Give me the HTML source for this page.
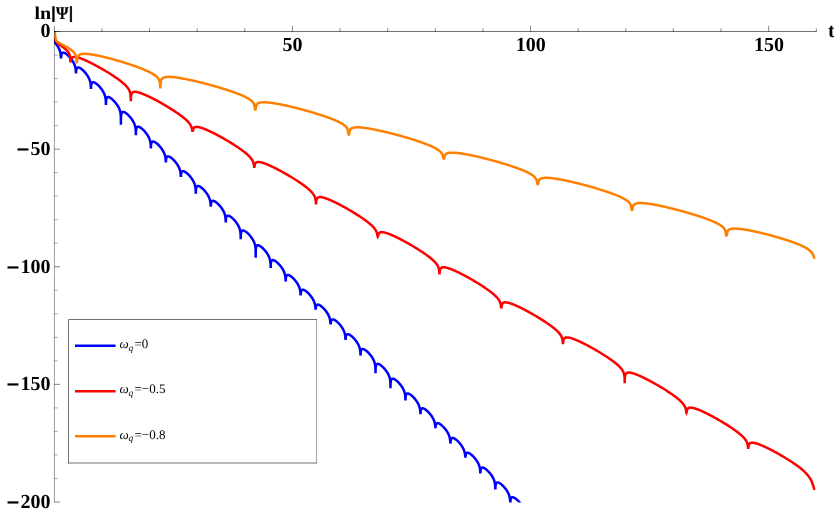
<!DOCTYPE html>
<html lang="en">
<head>
<meta charset="utf-8">
<title>ln|Psi| vs t</title>
<style>
html,body{margin:0;padding:0;background:#ffffff;}
body{width:834px;height:518px;overflow:hidden;font-family:"Liberation Serif",serif;}
svg{display:block;will-change:transform;}
text{font-family:"Liberation Serif",serif;font-weight:bold;font-size:20px;fill:#000000;text-rendering:geometricPrecision;}
text.lg{font-weight:normal;font-size:13px;}
</style>
</head>
<body>
<svg width="834" height="518" viewBox="0 0 834 518">
<rect x="0" y="0" width="834" height="518" fill="#ffffff"/>
<defs><clipPath id="pr"><rect x="54" y="0" width="780" height="502.5"/></clipPath></defs>
<g fill="none" stroke-width="2.5" stroke-linejoin="miter" stroke-miterlimit="3" stroke-linecap="butt" clip-path="url(#pr)">
<path stroke="#0000ff" d="M54.60 31.40L54.60 40.00L54.65 42.61L54.91 42.61L55.16 42.91L55.42 43.21L55.67 43.51L55.92 43.83L56.18 44.16L56.43 44.49L56.68 44.83L56.94 45.19L57.19 45.56L57.45 45.94L57.70 46.33L57.95 46.74L58.21 47.17L58.46 47.62L58.72 48.10L58.97 48.61L59.22 49.16L59.48 49.76L59.73 50.43L59.80 50.62L59.98 51.19L60.10 51.59L60.24 52.11L60.30 52.37L60.49 53.31L60.50 53.35L60.70 54.75L60.75 55.19L60.78 55.56L60.85 56.53L60.90 57.53L61.00 58.30L61.10 57.73L61.15 56.83L61.22 55.99L61.25 55.69L61.30 55.34L61.50 54.34L61.51 54.32L61.70 53.75L61.76 53.62L61.90 53.37L62.02 53.20L62.20 53.00L62.27 52.94L62.52 52.77L62.78 52.67L63.03 52.63L63.28 52.62L63.54 52.65L63.79 52.70L64.05 52.77L64.30 52.86L64.55 52.97L64.81 53.09L65.06 53.23L65.32 53.37L65.57 53.53L65.82 53.70L66.08 53.88L66.33 54.06L66.58 54.26L66.84 54.46L67.09 54.67L67.35 54.89L67.60 55.11L67.85 55.34L68.11 55.58L68.36 55.83L68.62 56.08L68.87 56.33L69.12 56.60L69.38 56.87L69.63 57.15L69.88 57.43L70.14 57.73L70.39 58.03L70.65 58.33L70.90 58.65L71.15 58.98L71.41 59.31L71.66 59.65L71.92 60.01L72.17 60.38L72.42 60.76L72.68 61.15L72.93 61.56L73.18 61.99L73.44 62.44L73.69 62.92L73.95 63.43L74.20 63.98L74.45 64.58L74.71 65.25L74.78 65.44L74.96 66.01L75.08 66.41L75.22 66.93L75.28 67.19L75.47 68.13L75.48 68.17L75.68 69.57L75.72 70.01L75.76 70.38L75.83 71.35L75.88 72.35L75.98 73.30L76.08 72.55L76.13 71.65L76.20 70.81L76.23 70.51L76.28 70.16L76.48 69.16L76.48 69.14L76.68 68.57L76.74 68.44L76.88 68.19L76.99 68.02L77.18 67.82L77.25 67.76L77.50 67.59L77.75 67.49L78.01 67.45L78.26 67.44L78.52 67.47L78.77 67.52L79.02 67.59L79.28 67.68L79.53 67.79L79.78 67.91L80.04 68.05L80.29 68.19L80.55 68.35L80.80 68.52L81.05 68.70L81.31 68.88L81.56 69.08L81.82 69.28L82.07 69.49L82.32 69.71L82.58 69.93L82.83 70.16L83.08 70.40L83.34 70.65L83.59 70.90L83.85 71.15L84.10 71.42L84.35 71.69L84.61 71.97L84.86 72.25L85.12 72.55L85.37 72.85L85.62 73.15L85.88 73.47L86.13 73.80L86.38 74.13L86.64 74.47L86.89 74.83L87.15 75.20L87.40 75.58L87.65 75.97L87.91 76.38L88.16 76.81L88.42 77.26L88.67 77.74L88.92 78.25L89.18 78.80L89.43 79.40L89.68 80.07L89.75 80.26L89.94 80.83L90.05 81.23L90.19 81.75L90.25 82.01L90.45 82.95L90.45 82.99L90.65 84.39L90.70 84.83L90.73 85.20L90.80 86.17L90.85 87.17L90.88 88.04L90.95 88.80L91.02 88.18L91.05 87.37L91.10 86.47L91.17 85.63L91.21 85.33L91.25 84.98L91.45 83.98L91.46 83.96L91.65 83.39L91.72 83.26L91.85 83.01L91.97 82.84L92.15 82.64L92.22 82.58L92.48 82.41L92.73 82.31L92.98 82.27L93.24 82.26L93.49 82.29L93.75 82.34L94.00 82.41L94.25 82.50L94.51 82.61L94.76 82.73L95.02 82.87L95.27 83.01L95.52 83.17L95.78 83.34L96.03 83.52L96.28 83.70L96.54 83.90L96.79 84.10L97.05 84.31L97.30 84.53L97.55 84.75L97.81 84.98L98.06 85.22L98.32 85.47L98.57 85.72L98.82 85.97L99.08 86.24L99.33 86.51L99.58 86.79L99.84 87.07L100.09 87.37L100.35 87.67L100.60 87.97L100.85 88.29L101.11 88.62L101.36 88.95L101.62 89.29L101.87 89.65L102.12 90.02L102.38 90.40L102.63 90.79L102.88 91.20L103.14 91.63L103.39 92.08L103.65 92.56L103.90 93.07L104.15 93.62L104.41 94.22L104.66 94.89L104.73 95.08L104.92 95.65L105.03 96.05L105.17 96.57L105.23 96.83L105.42 97.77L105.43 97.81L105.63 99.21L105.68 99.65L105.71 100.02L105.78 100.99L105.83 101.99L105.86 102.86L105.89 104.21L105.93 105.00L105.97 104.29L106.00 103.00L106.03 102.19L106.08 101.29L106.15 100.45L106.18 100.15L106.23 99.80L106.43 98.80L106.44 98.78L106.63 98.21L106.69 98.08L106.83 97.83L106.95 97.66L107.13 97.46L107.20 97.40L107.45 97.23L107.71 97.13L107.96 97.09L108.22 97.08L108.47 97.11L108.72 97.16L108.98 97.23L109.23 97.32L109.48 97.43L109.74 97.55L109.99 97.69L110.25 97.83L110.50 97.99L110.75 98.16L111.01 98.34L111.26 98.52L111.52 98.72L111.77 98.92L112.02 99.13L112.28 99.35L112.53 99.57L112.78 99.80L113.04 100.04L113.29 100.29L113.55 100.54L113.80 100.79L114.05 101.06L114.31 101.33L114.56 101.61L114.82 101.89L115.07 102.19L115.32 102.49L115.58 102.79L115.83 103.11L116.08 103.44L116.34 103.77L116.59 104.11L116.85 104.47L117.10 104.84L117.35 105.22L117.61 105.61L117.86 106.02L118.12 106.45L118.37 106.90L118.62 107.38L118.88 107.89L119.13 108.44L119.38 109.04L119.64 109.71L119.71 109.90L119.89 110.47L120.01 110.87L120.15 111.39L120.21 111.65L120.40 112.59L120.41 112.63L120.61 114.03L120.65 114.47L120.69 114.84L120.76 115.81L120.81 116.81L120.84 117.68L120.87 119.03L120.89 120.68L120.90 122.32L120.91 124.80L120.92 122.34L120.93 120.72L120.95 119.11L120.98 117.82L121.01 117.01L121.06 116.11L121.13 115.27L121.16 114.97L121.21 114.62L121.41 113.62L121.42 113.60L121.61 113.03L121.67 112.90L121.81 112.65L121.92 112.48L122.11 112.28L122.18 112.22L122.43 112.05L122.68 111.95L122.94 111.91L123.19 111.90L123.45 111.93L123.70 111.98L123.95 112.05L124.21 112.14L124.46 112.25L124.72 112.37L124.97 112.51L125.22 112.65L125.48 112.81L125.73 112.98L125.98 113.16L126.24 113.34L126.49 113.54L126.75 113.74L127.00 113.95L127.25 114.17L127.51 114.39L127.76 114.62L128.02 114.86L128.27 115.11L128.52 115.36L128.78 115.61L129.03 115.88L129.28 116.15L129.54 116.43L129.79 116.71L130.05 117.01L130.30 117.31L130.55 117.61L130.81 117.93L131.06 118.26L131.32 118.59L131.57 118.93L131.82 119.29L132.08 119.66L132.33 120.04L132.58 120.43L132.84 120.84L133.09 121.27L133.35 121.72L133.60 122.20L133.85 122.71L134.11 123.26L134.36 123.86L134.62 124.53L134.69 124.72L134.87 125.29L134.98 125.69L135.12 126.21L135.19 126.47L135.38 127.41L135.38 127.45L135.58 128.85L135.63 129.29L135.66 129.66L135.73 130.63L135.78 131.63L135.81 132.50L135.84 133.85L135.88 135.30L135.92 133.93L135.95 132.64L135.98 131.83L136.03 130.93L136.10 130.09L136.14 129.79L136.19 129.44L136.38 128.44L136.39 128.42L136.58 127.85L136.65 127.72L136.78 127.47L136.90 127.30L137.08 127.10L137.15 127.04L137.41 126.87L137.66 126.77L137.92 126.73L138.17 126.72L138.42 126.75L138.68 126.80L138.93 126.87L139.19 126.96L139.44 127.07L139.69 127.19L139.95 127.33L140.20 127.47L140.45 127.63L140.71 127.80L140.96 127.98L141.22 128.16L141.47 128.36L141.72 128.56L141.98 128.77L142.23 128.99L142.49 129.21L142.74 129.44L142.99 129.68L143.25 129.93L143.50 130.18L143.75 130.43L144.01 130.70L144.26 130.97L144.52 131.25L144.77 131.53L145.02 131.83L145.28 132.13L145.53 132.43L145.79 132.75L146.04 133.08L146.29 133.41L146.55 133.75L146.80 134.11L147.05 134.48L147.31 134.86L147.56 135.25L147.82 135.66L148.07 136.09L148.32 136.54L148.58 137.02L148.83 137.53L149.09 138.08L149.34 138.68L149.59 139.35L149.66 139.54L149.85 140.11L149.96 140.51L150.10 141.03L150.16 141.29L150.35 142.23L150.36 142.27L150.56 143.67L150.61 144.11L150.64 144.48L150.71 145.45L150.76 146.45L150.79 147.32L150.86 148.30L150.93 147.46L150.96 146.65L151.01 145.75L151.08 144.91L151.12 144.61L151.16 144.26L151.36 143.26L151.37 143.24L151.56 142.67L151.62 142.54L151.76 142.29L151.88 142.12L152.06 141.92L152.13 141.86L152.39 141.69L152.64 141.59L152.89 141.55L153.15 141.54L153.40 141.57L153.65 141.62L153.91 141.69L154.16 141.78L154.42 141.89L154.67 142.01L154.92 142.15L155.18 142.29L155.43 142.45L155.69 142.62L155.94 142.80L156.19 142.98L156.45 143.18L156.70 143.38L156.95 143.59L157.21 143.81L157.46 144.03L157.72 144.26L157.97 144.50L158.22 144.75L158.48 145.00L158.73 145.25L158.99 145.52L159.24 145.79L159.49 146.07L159.75 146.35L160.00 146.65L160.25 146.95L160.51 147.25L160.76 147.57L161.02 147.90L161.27 148.23L161.52 148.57L161.78 148.93L162.03 149.30L162.29 149.68L162.54 150.07L162.79 150.48L163.05 150.91L163.30 151.36L163.55 151.84L163.81 152.35L164.06 152.90L164.32 153.50L164.57 154.17L164.64 154.36L164.82 154.93L164.94 155.33L165.08 155.85L165.14 156.11L165.33 157.05L165.34 157.09L165.54 158.49L165.59 158.93L165.62 159.30L165.69 160.27L165.74 161.27L165.84 162.50L165.94 161.47L165.99 160.57L166.06 159.73L166.09 159.43L166.14 159.08L166.34 158.08L166.35 158.06L166.54 157.49L166.60 157.36L166.74 157.11L166.85 156.94L167.04 156.74L167.11 156.68L167.36 156.51L167.62 156.41L167.87 156.37L168.12 156.36L168.38 156.39L168.63 156.44L168.89 156.51L169.14 156.60L169.39 156.71L169.65 156.83L169.90 156.97L170.15 157.11L170.41 157.27L170.66 157.44L170.92 157.62L171.17 157.80L171.42 158.00L171.68 158.20L171.93 158.41L172.19 158.63L172.44 158.85L172.69 159.08L172.95 159.32L173.20 159.57L173.45 159.82L173.71 160.07L173.96 160.34L174.22 160.61L174.47 160.89L174.72 161.17L174.98 161.47L175.23 161.77L175.49 162.07L175.74 162.39L175.99 162.72L176.25 163.05L176.50 163.39L176.75 163.75L177.01 164.12L177.26 164.50L177.52 164.89L177.77 165.30L178.02 165.73L178.28 166.18L178.53 166.66L178.79 167.17L179.04 167.72L179.29 168.32L179.55 168.99L179.62 169.18L179.80 169.75L179.92 170.15L180.05 170.67L180.12 170.93L180.31 171.87L180.32 171.91L180.52 173.31L180.56 173.75L180.60 174.12L180.67 175.09L180.72 176.09L180.82 176.70L180.92 176.29L180.97 175.39L181.04 174.55L181.07 174.25L181.12 173.90L181.32 172.90L181.32 172.88L181.52 172.31L181.58 172.18L181.72 171.93L181.83 171.76L182.02 171.56L182.09 171.50L182.34 171.33L182.59 171.23L182.85 171.19L183.10 171.18L183.35 171.21L183.61 171.26L183.86 171.33L184.12 171.42L184.37 171.53L184.62 171.65L184.88 171.79L185.13 171.93L185.39 172.09L185.64 172.26L185.89 172.44L186.15 172.62L186.40 172.82L186.65 173.02L186.91 173.23L187.16 173.45L187.42 173.67L187.67 173.90L187.92 174.14L188.18 174.39L188.43 174.64L188.69 174.89L188.94 175.16L189.19 175.43L189.45 175.71L189.70 175.99L189.95 176.29L190.21 176.59L190.46 176.89L190.72 177.21L190.97 177.54L191.22 177.87L191.48 178.21L191.73 178.57L191.99 178.94L192.24 179.32L192.49 179.71L192.75 180.12L193.00 180.55L193.25 181.00L193.51 181.48L193.76 181.99L194.02 182.54L194.27 183.14L194.52 183.81L194.59 184.00L194.78 184.57L194.89 184.97L195.03 185.49L195.09 185.75L195.29 186.69L195.29 186.73L195.49 188.13L195.54 188.57L195.57 188.94L195.64 189.91L195.69 190.91L195.72 191.78L195.75 193.13L195.79 193.70L195.83 193.21L195.86 191.92L195.89 191.11L195.94 190.21L196.01 189.37L196.05 189.07L196.09 188.72L196.29 187.72L196.30 187.70L196.49 187.13L196.55 187.00L196.69 186.75L196.81 186.58L196.99 186.38L197.06 186.32L197.32 186.15L197.57 186.05L197.82 186.01L198.08 186.00L198.33 186.03L198.59 186.08L198.84 186.15L199.09 186.24L199.35 186.35L199.60 186.47L199.85 186.61L200.11 186.75L200.36 186.91L200.62 187.08L200.87 187.26L201.12 187.44L201.38 187.64L201.63 187.84L201.89 188.05L202.14 188.27L202.39 188.49L202.65 188.72L202.90 188.96L203.15 189.21L203.41 189.46L203.66 189.71L203.92 189.98L204.17 190.25L204.42 190.53L204.68 190.81L204.93 191.11L205.19 191.41L205.44 191.71L205.69 192.03L205.95 192.36L206.20 192.69L206.45 193.03L206.71 193.39L206.96 193.76L207.22 194.14L207.47 194.53L207.72 194.94L207.98 195.37L208.23 195.82L208.49 196.30L208.74 196.81L208.99 197.36L209.25 197.96L209.50 198.63L209.57 198.82L209.75 199.39L209.87 199.79L210.01 200.31L210.07 200.57L210.26 201.51L210.27 201.55L210.47 202.95L210.52 203.39L210.55 203.76L210.62 204.73L210.67 205.73L210.77 206.70L210.87 205.93L210.92 205.03L210.99 204.19L211.02 203.89L211.07 203.54L211.27 202.54L211.28 202.52L211.47 201.95L211.53 201.82L211.67 201.57L211.79 201.40L211.97 201.20L212.04 201.14L212.29 200.97L212.55 200.87L212.80 200.83L213.05 200.82L213.31 200.85L213.56 200.90L213.82 200.97L214.07 201.06L214.32 201.17L214.58 201.29L214.83 201.43L215.09 201.57L215.34 201.73L215.59 201.90L215.85 202.08L216.10 202.26L216.35 202.46L216.61 202.66L216.86 202.87L217.12 203.09L217.37 203.31L217.62 203.54L217.88 203.78L218.13 204.03L218.39 204.28L218.64 204.53L218.89 204.80L219.15 205.07L219.40 205.35L219.65 205.63L219.91 205.93L220.16 206.23L220.42 206.53L220.67 206.85L220.92 207.18L221.18 207.51L221.43 207.85L221.69 208.21L221.94 208.58L222.19 208.96L222.45 209.35L222.70 209.76L222.95 210.19L223.21 210.64L223.46 211.12L223.72 211.63L223.97 212.18L224.22 212.78L224.48 213.45L224.55 213.64L224.73 214.21L224.85 214.61L224.99 215.13L225.05 215.39L225.24 216.33L225.25 216.37L225.45 217.77L225.49 218.21L225.53 218.58L225.60 219.55L225.65 220.55L225.68 221.42L225.75 222.50L225.82 221.56L225.85 220.75L225.90 219.85L225.97 219.01L226.00 218.71L226.05 218.36L226.25 217.36L226.25 217.34L226.45 216.77L226.51 216.64L226.65 216.39L226.76 216.22L226.95 216.02L227.02 215.96L227.27 215.79L227.52 215.69L227.78 215.65L228.03 215.64L228.29 215.67L228.54 215.72L228.79 215.79L229.05 215.88L229.30 215.99L229.55 216.11L229.81 216.25L230.06 216.39L230.32 216.55L230.57 216.72L230.82 216.90L231.08 217.08L231.33 217.28L231.59 217.48L231.84 217.69L232.09 217.91L232.35 218.13L232.60 218.36L232.85 218.60L233.11 218.85L233.36 219.10L233.62 219.35L233.87 219.62L234.12 219.89L234.38 220.17L234.63 220.45L234.89 220.75L235.14 221.05L235.39 221.35L235.65 221.67L235.90 222.00L236.15 222.33L236.41 222.67L236.66 223.03L236.92 223.40L237.17 223.78L237.42 224.17L237.68 224.58L237.93 225.01L238.19 225.46L238.44 225.94L238.69 226.45L238.95 227.00L239.20 227.60L239.45 228.27L239.52 228.46L239.71 229.03L239.82 229.43L239.96 229.95L240.02 230.21L240.22 231.15L240.22 231.19L240.42 232.59L240.47 233.03L240.50 233.40L240.57 234.37L240.62 235.37L240.65 236.24L240.68 237.59L240.72 239.20L240.76 237.67L240.79 236.38L240.82 235.57L240.87 234.67L240.94 233.83L240.98 233.53L241.02 233.18L241.22 232.18L241.23 232.16L241.42 231.59L241.49 231.46L241.62 231.21L241.74 231.04L241.92 230.84L241.99 230.78L242.25 230.61L242.50 230.51L242.75 230.47L243.01 230.46L243.26 230.49L243.52 230.54L243.77 230.61L244.02 230.70L244.28 230.81L244.53 230.93L244.79 231.07L245.04 231.21L245.29 231.37L245.55 231.54L245.80 231.72L246.05 231.90L246.31 232.10L246.56 232.30L246.82 232.51L247.07 232.73L247.32 232.95L247.58 233.18L247.83 233.42L248.09 233.67L248.34 233.92L248.59 234.17L248.85 234.44L249.10 234.71L249.35 234.99L249.61 235.27L249.86 235.57L250.12 235.87L250.37 236.17L250.62 236.49L250.88 236.82L251.13 237.15L251.39 237.49L251.64 237.85L251.89 238.22L252.15 238.60L252.40 238.99L252.65 239.40L252.91 239.83L253.16 240.28L253.42 240.76L253.67 241.27L253.92 241.82L254.18 242.42L254.43 243.09L254.50 243.28L254.69 243.85L254.80 244.25L254.94 244.77L255.00 245.03L255.19 245.97L255.20 246.01L255.40 247.41L255.45 247.85L255.48 248.22L255.55 249.19L255.60 250.19L255.63 251.06L255.66 252.41L255.68 254.06L255.69 255.70L255.70 257.80L255.71 255.72L255.72 254.10L255.74 252.49L255.77 251.20L255.80 250.39L255.85 249.49L255.92 248.65L255.95 248.35L256.00 248.00L256.20 247.00L256.21 246.98L256.40 246.41L256.46 246.28L256.60 246.03L256.72 245.86L256.90 245.66L256.97 245.60L257.22 245.43L257.48 245.33L257.73 245.29L257.99 245.28L258.24 245.31L258.49 245.36L258.75 245.43L259.00 245.52L259.25 245.63L259.51 245.75L259.76 245.89L260.02 246.03L260.27 246.19L260.52 246.36L260.78 246.54L261.03 246.72L261.29 246.92L261.54 247.12L261.79 247.33L262.05 247.55L262.30 247.77L262.55 248.00L262.81 248.24L263.06 248.49L263.32 248.74L263.57 248.99L263.82 249.26L264.08 249.53L264.33 249.81L264.59 250.09L264.84 250.39L265.09 250.69L265.35 250.99L265.60 251.31L265.85 251.64L266.11 251.97L266.36 252.31L266.62 252.67L266.87 253.04L267.12 253.42L267.38 253.81L267.63 254.22L267.89 254.65L268.14 255.10L268.39 255.58L268.65 256.09L268.90 256.64L269.15 257.24L269.41 257.91L269.48 258.10L269.66 258.67L269.78 259.07L269.92 259.59L269.98 259.85L270.17 260.79L270.18 260.83L270.38 262.23L270.42 262.67L270.46 263.04L270.53 264.01L270.58 265.01L270.61 265.88L270.64 267.23L270.68 268.00L270.72 267.31L270.75 266.02L270.78 265.21L270.83 264.31L270.90 263.47L270.93 263.17L270.98 262.82L271.18 261.82L271.19 261.80L271.38 261.23L271.44 261.10L271.58 260.85L271.69 260.68L271.88 260.48L271.95 260.42L272.20 260.25L272.45 260.15L272.71 260.11L272.96 260.10L273.22 260.13L273.47 260.18L273.72 260.25L273.98 260.34L274.23 260.45L274.49 260.57L274.74 260.71L274.99 260.85L275.25 261.01L275.50 261.18L275.75 261.36L276.01 261.54L276.26 261.74L276.52 261.94L276.77 262.15L277.02 262.37L277.28 262.59L277.53 262.82L277.79 263.06L278.04 263.31L278.29 263.56L278.55 263.81L278.80 264.08L279.05 264.35L279.31 264.63L279.56 264.91L279.82 265.21L280.07 265.51L280.32 265.81L280.58 266.13L280.83 266.46L281.09 266.79L281.34 267.13L281.59 267.49L281.85 267.86L282.10 268.24L282.35 268.63L282.61 269.04L282.86 269.47L283.12 269.92L283.37 270.40L283.62 270.91L283.88 271.46L284.13 272.06L284.39 272.73L284.45 272.92L284.64 273.49L284.75 273.89L284.89 274.41L284.95 274.67L285.15 275.61L285.15 275.65L285.35 277.05L285.40 277.49L285.43 277.86L285.50 278.83L285.55 279.83L285.58 280.70L285.65 281.50L285.72 280.84L285.75 280.03L285.80 279.13L285.88 278.29L285.91 277.99L285.95 277.64L286.15 276.64L286.16 276.62L286.35 276.05L286.42 275.92L286.55 275.67L286.67 275.50L286.85 275.30L286.92 275.24L287.18 275.07L287.43 274.97L287.69 274.93L287.94 274.92L288.19 274.95L288.45 275.00L288.70 275.07L288.96 275.16L289.21 275.27L289.46 275.39L289.72 275.53L289.97 275.67L290.22 275.83L290.48 276.00L290.73 276.18L290.99 276.36L291.24 276.56L291.49 276.76L291.75 276.97L292.00 277.19L292.26 277.41L292.51 277.64L292.76 277.88L293.02 278.13L293.27 278.38L293.52 278.63L293.78 278.90L294.03 279.17L294.29 279.45L294.54 279.73L294.79 280.03L295.05 280.33L295.30 280.63L295.56 280.95L295.81 281.28L296.06 281.61L296.32 281.95L296.57 282.31L296.82 282.68L297.08 283.06L297.33 283.45L297.59 283.86L297.84 284.29L298.09 284.74L298.35 285.22L298.60 285.73L298.86 286.28L299.11 286.88L299.36 287.55L299.43 287.74L299.62 288.31L299.73 288.71L299.87 289.23L299.93 289.49L300.12 290.43L300.13 290.47L300.33 291.87L300.38 292.31L300.41 292.68L300.48 293.65L300.53 294.65L300.63 295.30L300.73 294.85L300.78 293.95L300.85 293.11L300.89 292.81L300.93 292.46L301.13 291.46L301.14 291.44L301.33 290.87L301.39 290.74L301.53 290.49L301.65 290.32L301.83 290.12L301.90 290.06L302.16 289.89L302.41 289.79L302.66 289.75L302.92 289.74L303.17 289.77L303.42 289.82L303.68 289.89L303.93 289.98L304.19 290.09L304.44 290.21L304.69 290.35L304.95 290.49L305.20 290.65L305.46 290.82L305.71 291.00L305.96 291.18L306.22 291.38L306.47 291.58L306.72 291.79L306.98 292.01L307.23 292.23L307.49 292.46L307.74 292.70L307.99 292.95L308.25 293.20L308.50 293.45L308.76 293.72L309.01 293.99L309.26 294.27L309.52 294.55L309.77 294.85L310.02 295.15L310.28 295.45L310.53 295.77L310.79 296.10L311.04 296.43L311.29 296.77L311.55 297.13L311.80 297.50L312.06 297.88L312.31 298.27L312.56 298.68L312.82 299.11L313.07 299.56L313.32 300.04L313.58 300.55L313.83 301.10L314.09 301.70L314.34 302.37L314.41 302.56L314.59 303.13L314.71 303.53L314.85 304.05L314.91 304.31L315.10 305.25L315.11 305.29L315.31 306.69L315.36 307.13L315.39 307.50L315.46 308.47L315.61 309.50L315.76 308.77L315.83 307.93L315.86 307.63L315.91 307.28L316.11 306.28L316.12 306.26L316.31 305.69L316.37 305.56L316.51 305.31L316.62 305.14L316.81 304.94L316.88 304.88L317.13 304.71L317.39 304.61L317.64 304.57L317.89 304.56L318.15 304.59L318.40 304.64L318.66 304.71L318.91 304.80L319.16 304.91L319.42 305.03L319.67 305.17L319.92 305.31L320.18 305.47L320.43 305.64L320.69 305.82L320.94 306.00L321.19 306.20L321.45 306.40L321.70 306.61L321.96 306.83L322.21 307.05L322.46 307.28L322.72 307.52L322.97 307.77L323.22 308.02L323.48 308.27L323.73 308.54L323.99 308.81L324.24 309.09L324.49 309.37L324.75 309.67L325.00 309.97L325.26 310.27L325.51 310.59L325.76 310.92L326.02 311.25L326.27 311.59L326.52 311.95L326.78 312.32L327.03 312.70L327.29 313.09L327.54 313.50L327.79 313.93L328.05 314.38L328.30 314.86L328.56 315.37L328.81 315.92L329.06 316.52L329.32 317.19L329.39 317.38L329.57 317.95L329.69 318.35L329.82 318.87L329.89 319.13L330.08 320.07L330.09 320.11L330.29 321.51L330.33 321.95L330.37 322.32L330.44 323.29L330.59 324.20L330.74 323.59L330.81 322.75L330.84 322.45L330.89 322.10L331.09 321.10L331.09 321.08L331.29 320.51L331.35 320.38L331.49 320.13L331.60 319.96L331.79 319.76L331.86 319.70L332.11 319.53L332.36 319.43L332.62 319.39L332.87 319.38L333.12 319.41L333.38 319.46L333.63 319.53L333.89 319.62L334.14 319.73L334.39 319.85L334.65 319.99L334.90 320.13L335.16 320.29L335.41 320.46L335.66 320.64L335.92 320.82L336.17 321.02L336.42 321.22L336.68 321.43L336.93 321.65L337.19 321.87L337.44 322.10L337.69 322.34L337.95 322.59L338.20 322.84L338.46 323.09L338.71 323.36L338.96 323.63L339.22 323.91L339.47 324.19L339.72 324.49L339.98 324.79L340.23 325.09L340.49 325.41L340.74 325.74L340.99 326.07L341.25 326.41L341.50 326.77L341.76 327.14L342.01 327.52L342.26 327.91L342.52 328.32L342.77 328.75L343.02 329.20L343.28 329.68L343.53 330.19L343.79 330.74L344.04 331.34L344.29 332.01L344.36 332.20L344.55 332.77L344.66 333.17L344.80 333.69L344.86 333.95L345.06 334.89L345.06 334.93L345.26 336.33L345.31 336.77L345.34 337.14L345.41 338.11L345.46 339.11L345.56 339.70L345.66 339.31L345.71 338.41L345.78 337.57L345.82 337.27L345.86 336.92L346.06 335.92L346.07 335.90L346.26 335.33L346.32 335.20L346.46 334.95L346.58 334.78L346.76 334.58L346.83 334.52L347.09 334.35L347.34 334.25L347.59 334.21L347.85 334.20L348.10 334.23L348.36 334.28L348.61 334.35L348.86 334.44L349.12 334.55L349.37 334.67L349.62 334.81L349.88 334.95L350.13 335.11L350.39 335.28L350.64 335.46L350.89 335.64L351.15 335.84L351.40 336.04L351.66 336.25L351.91 336.47L352.16 336.69L352.42 336.92L352.67 337.16L352.92 337.41L353.18 337.66L353.43 337.91L353.69 338.18L353.94 338.45L354.19 338.73L354.45 339.01L354.70 339.31L354.96 339.61L355.21 339.91L355.46 340.23L355.72 340.56L355.97 340.89L356.22 341.23L356.48 341.59L356.73 341.96L356.99 342.34L357.24 342.73L357.49 343.14L357.75 343.57L358.00 344.02L358.26 344.50L358.51 345.01L358.76 345.56L359.02 346.16L359.27 346.83L359.34 347.02L359.52 347.59L359.64 347.99L359.78 348.51L359.84 348.77L360.03 349.71L360.04 349.75L360.24 351.15L360.29 351.59L360.32 351.96L360.39 352.93L360.44 353.93L360.47 354.80L360.54 355.50L360.61 354.94L360.64 354.13L360.69 353.23L360.76 352.39L360.79 352.09L360.84 351.74L361.04 350.74L361.05 350.72L361.24 350.15L361.30 350.02L361.44 349.77L361.56 349.60L361.74 349.40L361.81 349.34L362.06 349.17L362.32 349.07L362.57 349.03L362.82 349.02L363.08 349.05L363.33 349.10L363.59 349.17L363.84 349.26L364.09 349.37L364.35 349.49L364.60 349.63L364.86 349.77L365.11 349.93L365.36 350.10L365.62 350.28L365.87 350.46L366.12 350.66L366.38 350.86L366.63 351.07L366.89 351.29L367.14 351.51L367.39 351.74L367.65 351.98L367.90 352.23L368.16 352.48L368.41 352.73L368.66 353.00L368.92 353.27L369.17 353.55L369.42 353.83L369.68 354.13L369.93 354.43L370.19 354.73L370.44 355.05L370.69 355.38L370.95 355.71L371.20 356.05L371.46 356.41L371.71 356.78L371.96 357.16L372.22 357.55L372.47 357.96L372.72 358.39L372.98 358.84L373.23 359.32L373.49 359.83L373.74 360.38L373.99 360.98L374.25 361.65L374.32 361.84L374.50 362.41L374.62 362.81L374.76 363.33L374.82 363.59L375.01 364.53L375.02 364.57L375.22 365.97L375.26 366.41L375.30 366.78L375.37 367.75L375.42 368.75L375.45 369.62L375.48 370.97L375.50 372.62L375.52 373.30L375.54 372.66L375.56 371.05L375.59 369.76L375.62 368.95L375.67 368.05L375.74 367.21L375.77 366.91L375.82 366.56L376.02 365.56L376.02 365.54L376.22 364.97L376.28 364.84L376.42 364.59L376.53 364.42L376.72 364.22L376.79 364.16L377.04 363.99L377.29 363.89L377.55 363.85L377.80 363.84L378.06 363.87L378.31 363.92L378.56 363.99L378.82 364.08L379.07 364.19L379.32 364.31L379.58 364.45L379.83 364.59L380.09 364.75L380.34 364.92L380.59 365.10L380.85 365.28L381.10 365.48L381.36 365.68L381.61 365.89L381.86 366.11L382.12 366.33L382.37 366.56L382.62 366.80L382.88 367.05L383.13 367.30L383.39 367.55L383.64 367.82L383.89 368.09L384.15 368.37L384.40 368.65L384.66 368.95L384.91 369.25L385.16 369.55L385.42 369.87L385.67 370.20L385.92 370.53L386.18 370.87L386.43 371.23L386.69 371.60L386.94 371.98L387.19 372.37L387.45 372.78L387.70 373.21L387.96 373.66L388.21 374.14L388.46 374.65L388.72 375.20L388.97 375.80L389.22 376.47L389.29 376.66L389.48 377.23L389.59 377.63L389.73 378.15L389.79 378.41L389.99 379.35L389.99 379.39L390.19 380.79L390.24 381.23L390.27 381.60L390.34 382.57L390.39 383.57L390.42 384.44L390.45 385.79L390.47 387.44L390.49 388.30L390.51 387.48L390.53 385.87L390.56 384.58L390.59 383.77L390.64 382.87L390.71 382.03L390.75 381.73L390.79 381.38L390.99 380.38L391.00 380.36L391.19 379.79L391.26 379.66L391.39 379.41L391.51 379.24L391.69 379.04L391.76 378.98L392.02 378.81L392.27 378.71L392.52 378.67L392.78 378.66L393.03 378.69L393.29 378.74L393.54 378.81L393.79 378.90L394.05 379.01L394.30 379.13L394.56 379.27L394.81 379.41L395.06 379.57L395.32 379.74L395.57 379.92L395.82 380.10L396.08 380.30L396.33 380.50L396.59 380.71L396.84 380.93L397.09 381.15L397.35 381.38L397.60 381.62L397.86 381.87L398.11 382.12L398.36 382.37L398.62 382.64L398.87 382.91L399.12 383.19L399.38 383.47L399.63 383.77L399.89 384.07L400.14 384.37L400.39 384.69L400.65 385.02L400.90 385.35L401.16 385.69L401.41 386.05L401.66 386.42L401.92 386.80L402.17 387.19L402.42 387.60L402.68 388.03L402.93 388.48L403.19 388.96L403.44 389.47L403.69 390.02L403.95 390.62L404.20 391.29L404.27 391.48L404.46 392.05L404.57 392.45L404.71 392.97L404.77 393.23L404.96 394.17L404.97 394.21L405.17 395.61L405.22 396.05L405.25 396.42L405.32 397.39L405.37 398.39L405.40 399.26L405.47 400.40L405.54 399.40L405.57 398.59L405.62 397.69L405.69 396.85L405.72 396.55L405.77 396.20L405.97 395.20L405.98 395.18L406.17 394.61L406.23 394.48L406.37 394.23L406.49 394.06L406.67 393.86L406.74 393.80L406.99 393.63L407.25 393.53L407.50 393.49L407.76 393.48L408.01 393.51L408.26 393.56L408.52 393.63L408.77 393.72L409.02 393.83L409.28 393.95L409.53 394.09L409.79 394.23L410.04 394.39L410.29 394.56L410.55 394.74L410.80 394.92L411.06 395.12L411.31 395.32L411.56 395.53L411.82 395.75L412.07 395.97L412.32 396.20L412.58 396.44L412.83 396.69L413.09 396.94L413.34 397.19L413.59 397.46L413.85 397.73L414.10 398.01L414.36 398.29L414.61 398.59L414.86 398.89L415.12 399.19L415.37 399.51L415.62 399.84L415.88 400.17L416.13 400.51L416.39 400.87L416.64 401.24L416.89 401.62L417.15 402.01L417.40 402.42L417.66 402.85L417.91 403.30L418.16 403.78L418.42 404.29L418.67 404.84L418.92 405.44L419.18 406.11L419.25 406.30L419.43 406.87L419.55 407.27L419.69 407.79L419.75 408.05L419.94 408.99L419.95 409.03L420.15 410.43L420.19 410.87L420.23 411.24L420.30 412.21L420.35 413.21L420.45 414.20L420.55 413.41L420.60 412.51L420.67 411.67L420.70 411.37L420.75 411.02L420.95 410.02L420.96 410.00L421.15 409.43L421.21 409.30L421.35 409.05L421.46 408.88L421.65 408.68L421.72 408.62L421.97 408.45L422.22 408.35L422.48 408.31L422.73 408.30L422.99 408.33L423.24 408.38L423.49 408.45L423.75 408.54L424.00 408.65L424.26 408.77L424.51 408.91L424.76 409.05L425.02 409.21L425.27 409.38L425.52 409.56L425.78 409.74L426.03 409.94L426.29 410.14L426.54 410.35L426.79 410.57L427.05 410.79L427.30 411.02L427.56 411.26L427.81 411.51L428.06 411.76L428.32 412.01L428.57 412.28L428.82 412.55L429.08 412.83L429.33 413.11L429.59 413.41L429.84 413.71L430.09 414.01L430.35 414.33L430.60 414.66L430.86 414.99L431.11 415.33L431.36 415.69L431.62 416.06L431.87 416.44L432.12 416.83L432.38 417.24L432.63 417.67L432.89 418.12L433.14 418.60L433.39 419.11L433.65 419.66L433.90 420.26L434.16 420.93L434.23 421.12L434.41 421.69L434.53 422.09L434.66 422.61L434.73 422.87L434.92 423.81L434.93 423.85L435.12 425.25L435.17 425.69L435.20 426.06L435.28 427.03L435.43 428.10L435.57 427.33L435.65 426.49L435.68 426.19L435.73 425.84L435.93 424.84L435.93 424.82L436.12 424.25L436.19 424.12L436.32 423.87L436.44 423.70L436.62 423.50L436.69 423.44L436.95 423.27L437.20 423.17L437.46 423.13L437.71 423.12L437.96 423.15L438.22 423.20L438.47 423.27L438.73 423.36L438.98 423.47L439.23 423.59L439.49 423.73L439.74 423.87L439.99 424.03L440.25 424.20L440.50 424.38L440.76 424.56L441.01 424.76L441.26 424.96L441.52 425.17L441.77 425.39L442.03 425.61L442.28 425.84L442.53 426.08L442.79 426.33L443.04 426.58L443.29 426.83L443.55 427.10L443.80 427.37L444.06 427.65L444.31 427.93L444.56 428.23L444.82 428.53L445.07 428.83L445.33 429.15L445.58 429.48L445.83 429.81L446.09 430.15L446.34 430.51L446.59 430.88L446.85 431.26L447.10 431.65L447.36 432.06L447.61 432.49L447.86 432.94L448.12 433.42L448.37 433.93L448.63 434.48L448.88 435.08L449.13 435.75L449.20 435.94L449.39 436.51L449.50 436.91L449.64 437.43L449.70 437.69L449.89 438.63L449.90 438.67L450.10 440.07L450.15 440.51L450.18 440.88L450.25 441.85L450.30 442.85L450.40 443.30L450.50 443.05L450.55 442.15L450.62 441.31L450.66 441.01L450.70 440.66L450.90 439.66L450.91 439.64L451.10 439.07L451.16 438.94L451.30 438.69L451.42 438.52L451.60 438.32L451.67 438.26L451.93 438.09L452.18 437.99L452.43 437.95L452.69 437.94L452.94 437.97L453.19 438.02L453.45 438.09L453.70 438.18L453.96 438.29L454.21 438.41L454.46 438.55L454.72 438.69L454.97 438.85L455.23 439.02L455.48 439.20L455.73 439.38L455.99 439.58L456.24 439.78L456.49 439.99L456.75 440.21L457.00 440.43L457.26 440.66L457.51 440.90L457.76 441.15L458.02 441.40L458.27 441.65L458.53 441.92L458.78 442.19L459.03 442.47L459.29 442.75L459.54 443.05L459.79 443.35L460.05 443.65L460.30 443.97L460.56 444.30L460.81 444.63L461.06 444.97L461.32 445.33L461.57 445.70L461.83 446.08L462.08 446.47L462.33 446.88L462.59 447.31L462.84 447.76L463.09 448.24L463.35 448.75L463.60 449.30L463.86 449.90L464.11 450.57L464.18 450.76L464.36 451.33L464.48 451.73L464.62 452.25L464.68 452.51L464.87 453.45L464.88 453.49L465.08 454.89L465.13 455.33L465.16 455.70L465.23 456.67L465.38 457.50L465.53 456.97L465.60 456.13L465.63 455.83L465.68 455.48L465.88 454.48L465.89 454.46L466.08 453.89L466.14 453.76L466.28 453.51L466.39 453.34L466.58 453.14L466.65 453.08L466.90 452.91L467.16 452.81L467.41 452.77L467.66 452.76L467.92 452.79L468.17 452.84L468.43 452.91L468.68 453.00L468.93 453.11L469.19 453.23L469.44 453.37L469.69 453.51L469.95 453.67L470.20 453.84L470.46 454.02L470.71 454.20L470.96 454.40L471.22 454.60L471.47 454.81L471.73 455.03L471.98 455.25L472.23 455.48L472.49 455.72L472.74 455.97L472.99 456.22L473.25 456.47L473.50 456.74L473.76 457.01L474.01 457.29L474.26 457.57L474.52 457.87L474.77 458.17L475.03 458.47L475.28 458.79L475.53 459.12L475.79 459.45L476.04 459.79L476.29 460.15L476.55 460.52L476.80 460.90L477.06 461.29L477.31 461.70L477.56 462.13L477.82 462.58L478.07 463.06L478.33 463.57L478.58 464.12L478.83 464.72L479.09 465.39L479.16 465.58L479.34 466.15L479.46 466.55L479.59 467.07L479.66 467.33L479.85 468.27L479.86 468.31L480.06 469.71L480.10 470.15L480.14 470.52L480.21 471.49L480.26 472.49L480.36 473.30L480.46 472.69L480.51 471.79L480.58 470.95L480.61 470.65L480.66 470.30L480.86 469.30L480.86 469.28L481.06 468.71L481.12 468.58L481.26 468.33L481.37 468.16L481.56 467.96L481.63 467.90L481.88 467.73L482.13 467.63L482.39 467.59L482.64 467.58L482.89 467.61L483.15 467.66L483.40 467.73L483.66 467.82L483.91 467.93L484.16 468.05L484.42 468.19L484.67 468.33L484.93 468.49L485.18 468.66L485.43 468.84L485.69 469.02L485.94 469.22L486.19 469.42L486.45 469.63L486.70 469.85L486.96 470.07L487.21 470.30L487.46 470.54L487.72 470.79L487.97 471.04L488.23 471.29L488.48 471.56L488.73 471.83L488.99 472.11L489.24 472.39L489.49 472.69L489.75 472.99L490.00 473.29L490.26 473.61L490.51 473.94L490.76 474.27L491.02 474.61L491.27 474.97L491.53 475.34L491.78 475.72L492.03 476.11L492.29 476.52L492.54 476.95L492.79 477.40L493.05 477.88L493.30 478.39L493.56 478.94L493.81 479.54L494.06 480.21L494.13 480.40L494.32 480.97L494.43 481.37L494.57 481.89L494.63 482.15L494.83 483.09L494.83 483.13L495.03 484.53L495.08 484.97L495.11 485.34L495.18 486.31L495.23 487.31L495.26 488.18L495.33 489.50L495.40 488.32L495.43 487.51L495.48 486.61L495.55 485.77L495.59 485.47L495.63 485.12L495.83 484.12L495.84 484.10L496.03 483.53L496.09 483.40L496.23 483.15L496.35 482.98L496.53 482.78L496.60 482.72L496.86 482.55L497.11 482.45L497.36 482.41L497.62 482.40L497.87 482.43L498.13 482.48L498.38 482.55L498.63 482.64L498.89 482.75L499.14 482.87L499.39 483.01L499.65 483.15L499.90 483.31L500.16 483.48L500.41 483.66L500.66 483.84L500.92 484.04L501.17 484.24L501.43 484.45L501.68 484.67L501.93 484.89L502.19 485.12L502.44 485.36L502.69 485.61L502.95 485.86L503.20 486.11L503.46 486.38L503.71 486.65L503.96 486.93L504.22 487.21L504.47 487.51L504.73 487.81L504.98 488.11L505.23 488.43L505.49 488.76L505.74 489.09L505.99 489.43L506.25 489.79L506.50 490.16L506.76 490.54L507.01 490.93L507.26 491.34L507.52 491.77L507.77 492.22L508.03 492.70L508.28 493.21L508.53 493.76L508.79 494.36L509.04 495.03L509.11 495.22L509.29 495.79L509.41 496.19L509.55 496.71L509.61 496.97L509.80 497.91L509.81 497.95L510.01 499.35L510.06 499.79L510.09 500.16L510.16 501.13L510.21 502.13L510.24 503.00L510.27 504.35L510.29 506.00L510.30 507.64L510.31 510.00L510.32 507.66L510.33 506.04L510.35 504.43L510.38 503.14L510.41 502.33L510.46 501.43L510.53 500.59L510.56 500.29L510.61 499.94L510.81 498.94L510.82 498.92L511.01 498.35L511.07 498.22L511.21 497.97L511.33 497.80L511.51 497.60L511.58 497.54L511.83 497.37L512.09 497.27L512.34 497.23L512.59 497.22L512.85 497.25L513.10 497.30L513.36 497.37L513.61 497.46L513.86 497.57L514.12 497.69L514.37 497.83L514.63 497.97L514.88 498.13L515.13 498.30L515.39 498.48L515.64 498.66L515.89 498.86L516.15 499.06L516.40 499.27L516.66 499.49L516.91 499.71L517.16 499.94L517.42 500.18L517.67 500.43L517.93 500.68L518.18 500.93L518.43 501.20L518.69 501.47L518.94 501.75L519.19 502.03L519.45 502.33L519.70 502.63L519.96 502.93L520.21 503.25L520.46 503.58L520.72 503.91L520.97 504.25L521.23 504.61L521.48 504.98L521.73 505.36L521.99 505.75L522.24 506.16L522.49 506.59L522.75 507.04L523.00 507.52L523.26 508.03L523.51 508.58L523.76 509.18L524.02 509.85L524.09 510.04L524.27 510.61L524.39 511.01L524.53 511.53L524.59 511.79L524.78 512.73L524.79 512.77L524.99 514.17L525.03 514.61L525.07 514.98L525.14 515.95L525.19 516.95L525.29 517.96L525.39 517.15L525.44 516.25L525.51 515.41L525.54 515.11L525.59 514.76L525.79 513.76L525.79 513.74L525.99 513.17L526.05 513.04L526.19 512.79L526.30 512.62L526.49 512.42L526.56 512.36L526.81 512.19L527.06 512.09L527.32 512.05L527.57 512.04L527.83 512.07L528.08 512.12L528.33 512.19L528.59 512.28L528.84 512.39L529.09 512.51L529.35 512.65L529.60 512.79L529.86 512.95L530.11 513.12L530.36 513.30L530.62 513.48L530.87 513.68L531.13 513.88L531.38 514.09L531.63 514.31L531.89 514.53L532.14 514.76L532.39 515.00L532.65 515.25L532.90 515.50L533.16 515.75L533.41 516.02L533.66 516.29L533.92 516.57L534.17 516.85L534.43 517.15L534.68 517.45L534.93 517.75L535.19 518.07L535.44 518.40L535.69 518.73L535.95 519.07L536.20 519.43L536.46 519.80L536.71 520.18L536.96 520.57L537.22 520.98L537.47 521.41L537.73 521.86L537.98 522.34L538.23 522.85L538.49 523.40L538.74 524.00L538.99 524.67L539.06 524.86L539.25 525.43L539.36 525.83L539.50 526.35L539.56 526.61L539.76 527.55L539.76 527.59L539.96 528.99L540.01 529.43L540.04 529.80L540.11 530.77L540.16 531.77L540.26 532.78"/>
<path stroke="#ff0000" d="M54.60 31.40L54.61 31.64L54.63 31.95L54.64 32.33L54.66 32.74L54.68 33.19L54.70 33.65L54.73 34.12L54.76 34.57L54.80 35.00L54.84 35.42L54.88 35.84L54.91 36.27L54.96 36.71L55.01 37.14L55.06 37.57L55.13 37.99L55.21 38.40L55.30 38.80L55.42 39.24L55.54 39.67L55.68 40.09L55.83 40.50L56.00 40.90L56.18 41.28L56.38 41.65L56.60 42.00L56.83 42.31L57.07 42.59L57.32 42.85L57.59 43.09L57.88 43.33L58.21 43.59L58.58 43.87L59.00 44.20L59.27 44.41L59.57 44.63L59.90 44.87L60.25 45.12L60.61 45.38L60.98 45.64L61.36 45.91L61.73 46.17L62.10 46.43L62.47 46.69L62.81 46.94L63.13 47.17L63.43 47.39L63.70 47.60L64.15 47.96L64.53 48.28L64.85 48.56L65.13 48.83L65.41 49.09L65.69 49.38L66.00 49.70L66.27 49.97L66.55 50.26L66.83 50.56L67.12 50.86L67.40 51.17L67.68 51.49L67.94 51.80L68.18 52.10L68.40 52.40L68.65 52.77L68.87 53.13L69.08 53.49L69.26 53.85L69.42 54.22L69.57 54.60L69.70 55.00L69.80 55.37L69.89 55.74L69.96 56.12L70.02 56.51L70.07 56.91L70.11 57.32L70.16 57.75L70.20 58.20L70.23 58.59L70.26 59.03L70.29 59.49L70.31 59.97L70.33 60.45L70.35 60.91L70.36 61.34L70.38 61.73L70.39 62.05L70.40 62.30L70.62 61.62L70.70 60.94L70.80 60.32L70.90 59.85L71.10 59.17L71.20 58.91L71.30 58.69L71.60 58.19L72.00 57.74L72.40 57.44L72.80 57.24L73.20 57.11L73.60 57.02L74.00 56.98L74.40 56.96L74.80 56.97L75.20 56.99L75.60 57.04L76.00 57.09L76.40 57.16L76.80 57.24L77.20 57.33L77.60 57.43L78.00 57.54L78.40 57.65L78.80 57.77L79.20 57.90L79.60 58.03L80.00 58.16L80.40 58.30L80.80 58.44L81.20 58.59L81.60 58.74L82.00 58.90L82.40 59.05L82.80 59.21L83.20 59.38L83.60 59.54L84.00 59.71L84.40 59.88L84.80 60.06L85.20 60.23L85.60 60.41L86.00 60.59L86.40 60.77L86.80 60.95L87.20 61.14L87.60 61.33L88.00 61.52L88.40 61.71L88.80 61.90L89.20 62.09L89.60 62.29L90.00 62.48L90.40 62.68L90.80 62.88L91.20 63.08L91.60 63.28L92.00 63.48L92.40 63.69L92.80 63.89L93.20 64.10L93.60 64.31L94.00 64.52L94.40 64.73L94.80 64.94L95.20 65.15L95.60 65.36L96.00 65.58L96.40 65.79L96.80 66.01L97.20 66.23L97.60 66.45L98.00 66.67L98.40 66.89L98.80 67.11L99.20 67.33L99.60 67.56L100.00 67.78L100.40 68.01L100.80 68.24L101.20 68.46L101.60 68.69L102.00 68.92L102.40 69.15L102.80 69.39L103.20 69.62L103.60 69.85L104.00 70.09L104.40 70.33L104.80 70.56L105.20 70.80L105.60 71.04L106.00 71.28L106.40 71.52L106.80 71.77L107.20 72.01L107.60 72.26L108.00 72.50L108.40 72.75L108.80 73.00L109.20 73.25L109.60 73.50L110.00 73.75L110.40 74.00L110.80 74.26L111.20 74.52L111.60 74.77L112.00 75.03L112.40 75.29L112.80 75.56L113.20 75.82L113.60 76.09L114.00 76.35L114.40 76.62L114.80 76.89L115.20 77.17L115.60 77.44L116.00 77.72L116.40 78.00L116.80 78.28L117.20 78.56L117.60 78.84L118.00 79.13L118.40 79.42L118.80 79.72L119.20 80.01L119.60 80.31L120.00 80.62L120.40 80.92L120.80 81.23L121.20 81.55L121.60 81.87L122.00 82.19L122.40 82.52L122.80 82.85L123.20 83.20L123.60 83.54L124.00 83.90L124.40 84.26L124.80 84.64L125.20 85.02L125.60 85.42L126.00 85.83L126.40 86.26L126.80 86.70L127.20 87.18L127.60 87.68L128.00 88.22L128.40 88.80L128.80 89.46L129.20 90.21L129.60 91.11L129.90 91.96L130.00 92.29L130.10 92.66L130.30 93.57L130.40 94.15L130.50 94.88L130.58 95.66L130.65 96.60L130.70 97.58L130.73 98.44L130.76 99.77L130.80 101.30L130.84 100.37L130.87 99.07L130.90 98.25L130.95 97.32L131.02 96.46L131.10 95.78L131.20 95.15L131.30 94.69L131.50 94.01L131.60 93.75L131.70 93.54L132.00 93.03L132.40 92.58L132.80 92.28L133.21 92.08L133.61 91.95L134.01 91.87L134.41 91.82L134.81 91.80L135.21 91.81L135.61 91.84L136.01 91.88L136.41 91.94L136.81 92.01L137.21 92.09L137.62 92.18L138.02 92.28L138.42 92.39L138.82 92.50L139.22 92.62L139.62 92.75L140.02 92.88L140.42 93.01L140.82 93.15L141.22 93.30L141.62 93.45L142.03 93.60L142.43 93.75L142.83 93.91L143.23 94.07L143.63 94.23L144.03 94.40L144.43 94.57L144.83 94.74L145.23 94.91L145.63 95.09L146.03 95.27L146.44 95.45L146.84 95.63L147.24 95.81L147.64 96.00L148.04 96.19L148.44 96.37L148.84 96.57L149.24 96.76L149.64 96.95L150.04 97.15L150.44 97.34L150.85 97.54L151.25 97.74L151.65 97.94L152.05 98.14L152.45 98.34L152.85 98.55L153.25 98.75L153.65 98.96L154.05 99.17L154.45 99.38L154.85 99.59L155.26 99.80L155.66 100.01L156.06 100.22L156.46 100.44L156.86 100.65L157.26 100.87L157.66 101.09L158.06 101.30L158.46 101.52L158.86 101.74L159.26 101.97L159.67 102.19L160.07 102.41L160.47 102.64L160.87 102.86L161.27 103.09L161.67 103.31L162.07 103.54L162.47 103.77L162.87 104.00L163.27 104.23L163.67 104.47L164.08 104.70L164.48 104.93L164.88 105.17L165.28 105.41L165.68 105.64L166.08 105.88L166.48 106.12L166.88 106.36L167.28 106.60L167.68 106.84L168.08 107.09L168.49 107.33L168.89 107.58L169.29 107.83L169.69 108.07L170.09 108.32L170.49 108.57L170.89 108.82L171.29 109.08L171.69 109.33L172.09 109.59L172.49 109.84L172.90 110.10L173.30 110.36L173.70 110.62L174.10 110.88L174.50 111.15L174.90 111.41L175.30 111.68L175.70 111.95L176.10 112.22L176.50 112.49L176.90 112.77L177.31 113.04L177.71 113.32L178.11 113.60L178.51 113.88L178.91 114.17L179.31 114.45L179.71 114.74L180.11 115.03L180.51 115.33L180.91 115.63L181.31 115.93L181.72 116.23L182.12 116.54L182.52 116.85L182.92 117.17L183.32 117.49L183.72 117.81L184.12 118.14L184.52 118.48L184.92 118.82L185.32 119.17L185.72 119.53L186.13 119.89L186.53 120.26L186.93 120.65L187.33 121.05L187.73 121.46L188.13 121.89L188.53 122.34L188.93 122.81L189.33 123.31L189.73 123.85L190.13 124.44L190.54 125.10L190.94 125.85L191.34 126.75L191.34 126.76L191.64 127.60L191.74 127.93L191.84 128.31L192.04 129.21L192.14 129.79L192.24 130.53L192.54 131.70L192.84 130.87L192.94 130.24L193.04 129.78L193.24 129.10L193.34 128.84L193.44 128.63L193.74 128.12L194.14 127.67L194.54 127.37L194.95 127.17L195.35 127.04L195.75 126.96L196.15 126.91L196.55 126.89L196.95 126.90L197.35 126.93L197.75 126.97L198.15 127.03L198.55 127.10L198.95 127.18L199.36 127.27L199.76 127.37L200.16 127.48L200.56 127.59L200.96 127.71L201.36 127.84L201.76 127.97L202.16 128.10L202.56 128.24L202.96 128.39L203.36 128.54L203.77 128.69L204.17 128.84L204.57 129.00L204.97 129.16L205.37 129.32L205.77 129.49L206.17 129.66L206.57 129.83L206.97 130.00L207.37 130.18L207.77 130.36L208.18 130.54L208.58 130.72L208.98 130.90L209.38 131.09L209.78 131.28L210.18 131.46L210.58 131.66L210.98 131.85L211.38 132.04L211.78 132.24L212.18 132.43L212.59 132.63L212.99 132.83L213.39 133.03L213.79 133.23L214.19 133.43L214.59 133.64L214.99 133.84L215.39 134.05L215.79 134.26L216.19 134.47L216.59 134.68L217.00 134.89L217.40 135.10L217.80 135.31L218.20 135.53L218.60 135.74L219.00 135.96L219.40 136.18L219.80 136.39L220.20 136.61L220.60 136.83L221.00 137.06L221.41 137.28L221.81 137.50L222.21 137.73L222.61 137.95L223.01 138.18L223.41 138.41L223.81 138.63L224.21 138.86L224.61 139.09L225.01 139.32L225.41 139.56L225.82 139.79L226.22 140.02L226.62 140.26L227.02 140.50L227.42 140.73L227.82 140.97L228.22 141.21L228.62 141.45L229.02 141.69L229.42 141.93L229.82 142.18L230.23 142.42L230.63 142.67L231.03 142.92L231.43 143.16L231.83 143.41L232.23 143.66L232.63 143.91L233.03 144.17L233.43 144.42L233.83 144.68L234.23 144.93L234.64 145.19L235.04 145.45L235.44 145.71L235.84 145.97L236.24 146.24L236.64 146.50L237.04 146.77L237.44 147.04L237.84 147.31L238.24 147.58L238.64 147.86L239.05 148.13L239.45 148.41L239.85 148.69L240.25 148.97L240.65 149.26L241.05 149.54L241.45 149.83L241.85 150.12L242.25 150.42L242.65 150.72L243.05 151.02L243.46 151.32L243.86 151.63L244.26 151.94L244.66 152.26L245.06 152.58L245.46 152.90L245.86 153.23L246.26 153.57L246.66 153.91L247.06 154.26L247.46 154.62L247.87 154.98L248.27 155.35L248.67 155.74L249.07 156.14L249.47 156.55L249.87 156.98L250.27 157.43L250.67 157.90L251.07 158.40L251.47 158.94L251.87 159.53L252.28 160.19L252.68 160.94L253.08 161.84L253.08 161.85L253.38 162.69L253.48 163.02L253.58 163.40L253.78 164.30L253.88 164.88L253.98 165.62L254.06 166.39L254.28 167.70L254.50 166.64L254.58 165.96L254.68 165.33L254.78 164.87L254.98 164.19L255.08 163.93L255.18 163.72L255.48 163.21L255.88 162.76L256.28 162.46L256.69 162.26L257.09 162.13L257.49 162.05L257.89 162.00L258.29 161.98L258.69 161.99L259.09 162.02L259.49 162.06L259.89 162.12L260.29 162.19L260.69 162.27L261.10 162.36L261.50 162.46L261.90 162.57L262.30 162.68L262.70 162.80L263.10 162.93L263.50 163.06L263.90 163.19L264.30 163.33L264.70 163.48L265.10 163.63L265.51 163.78L265.91 163.93L266.31 164.09L266.71 164.25L267.11 164.41L267.51 164.58L267.91 164.75L268.31 164.92L268.71 165.09L269.11 165.27L269.51 165.45L269.92 165.63L270.32 165.81L270.72 165.99L271.12 166.18L271.52 166.37L271.92 166.55L272.32 166.75L272.72 166.94L273.12 167.13L273.52 167.33L273.92 167.52L274.33 167.72L274.73 167.92L275.13 168.12L275.53 168.32L275.93 168.52L276.33 168.73L276.73 168.93L277.13 169.14L277.53 169.35L277.93 169.56L278.33 169.77L278.74 169.98L279.14 170.19L279.54 170.40L279.94 170.62L280.34 170.83L280.74 171.05L281.14 171.27L281.54 171.48L281.94 171.70L282.34 171.92L282.74 172.15L283.15 172.37L283.55 172.59L283.95 172.82L284.35 173.04L284.75 173.27L285.15 173.50L285.55 173.72L285.95 173.95L286.35 174.18L286.75 174.41L287.15 174.65L287.56 174.88L287.96 175.11L288.36 175.35L288.76 175.59L289.16 175.82L289.56 176.06L289.96 176.30L290.36 176.54L290.76 176.78L291.16 177.02L291.56 177.27L291.97 177.51L292.37 177.76L292.77 178.01L293.17 178.25L293.57 178.50L293.97 178.75L294.37 179.00L294.77 179.26L295.17 179.51L295.57 179.77L295.97 180.02L296.38 180.28L296.78 180.54L297.18 180.80L297.58 181.06L297.98 181.33L298.38 181.59L298.78 181.86L299.18 182.13L299.58 182.40L299.98 182.67L300.38 182.95L300.79 183.22L301.19 183.50L301.59 183.78L301.99 184.06L302.39 184.35L302.79 184.63L303.19 184.92L303.59 185.21L303.99 185.51L304.39 185.81L304.79 186.11L305.20 186.41L305.60 186.72L306.00 187.03L306.40 187.35L306.80 187.67L307.20 187.99L307.60 188.32L308.00 188.66L308.40 189.00L308.80 189.35L309.20 189.71L309.61 190.07L310.01 190.44L310.41 190.83L310.81 191.23L311.21 191.64L311.61 192.07L312.01 192.52L312.41 192.99L312.81 193.49L313.21 194.03L313.61 194.62L314.02 195.28L314.42 196.03L314.82 196.93L314.82 196.94L315.12 197.78L315.22 198.11L315.32 198.49L315.52 199.39L315.62 199.97L315.72 200.71L315.80 201.48L315.87 202.42L315.92 203.41L316.02 204.30L316.12 203.52L316.17 202.59L316.24 201.73L316.32 201.05L316.42 200.42L316.52 199.96L316.72 199.28L316.82 199.02L316.92 198.81L317.22 198.30L317.62 197.85L318.02 197.55L318.43 197.35L318.83 197.22L319.23 197.14L319.63 197.09L320.03 197.07L320.43 197.08L320.83 197.11L321.23 197.15L321.63 197.21L322.03 197.28L322.43 197.36L322.84 197.45L323.24 197.55L323.64 197.66L324.04 197.77L324.44 197.89L324.84 198.02L325.24 198.15L325.64 198.28L326.04 198.42L326.44 198.57L326.84 198.72L327.25 198.87L327.65 199.02L328.05 199.18L328.45 199.34L328.85 199.50L329.25 199.67L329.65 199.84L330.05 200.01L330.45 200.18L330.85 200.36L331.25 200.54L331.66 200.72L332.06 200.90L332.46 201.08L332.86 201.27L333.26 201.46L333.66 201.64L334.06 201.84L334.46 202.03L334.86 202.22L335.26 202.42L335.66 202.61L336.07 202.81L336.47 203.01L336.87 203.21L337.27 203.41L337.67 203.61L338.07 203.82L338.47 204.02L338.87 204.23L339.27 204.44L339.67 204.65L340.07 204.86L340.48 205.07L340.88 205.28L341.28 205.49L341.68 205.71L342.08 205.92L342.48 206.14L342.88 206.36L343.28 206.57L343.68 206.79L344.08 207.01L344.48 207.24L344.89 207.46L345.29 207.68L345.69 207.91L346.09 208.13L346.49 208.36L346.89 208.59L347.29 208.81L347.69 209.04L348.09 209.27L348.49 209.50L348.89 209.74L349.30 209.97L349.70 210.20L350.10 210.44L350.50 210.68L350.90 210.91L351.30 211.15L351.70 211.39L352.10 211.63L352.50 211.87L352.90 212.11L353.30 212.36L353.71 212.60L354.11 212.85L354.51 213.10L354.91 213.34L355.31 213.59L355.71 213.84L356.11 214.09L356.51 214.35L356.91 214.60L357.31 214.86L357.71 215.11L358.12 215.37L358.52 215.63L358.92 215.89L359.32 216.15L359.72 216.42L360.12 216.68L360.52 216.95L360.92 217.22L361.32 217.49L361.72 217.76L362.12 218.04L362.53 218.31L362.93 218.59L363.33 218.87L363.73 219.15L364.13 219.44L364.53 219.72L364.93 220.01L365.33 220.30L365.73 220.60L366.13 220.90L366.53 221.20L366.94 221.50L367.34 221.81L367.74 222.12L368.14 222.44L368.54 222.76L368.94 223.08L369.34 223.41L369.74 223.75L370.14 224.09L370.54 224.44L370.94 224.80L371.35 225.16L371.75 225.53L372.15 225.92L372.55 226.32L372.95 226.73L373.35 227.16L373.75 227.61L374.15 228.08L374.55 228.58L374.95 229.12L375.35 229.71L375.76 230.37L376.16 231.12L376.56 232.02L376.56 232.03L376.86 232.87L376.96 233.20L377.06 233.58L377.26 234.48L377.36 235.06L377.46 235.80L377.76 236.70L378.06 236.14L378.16 235.51L378.26 235.05L378.46 234.37L378.56 234.11L378.66 233.90L378.96 233.39L379.36 232.94L379.76 232.64L380.17 232.44L380.57 232.31L380.97 232.23L381.37 232.18L381.77 232.16L382.17 232.17L382.57 232.20L382.97 232.24L383.37 232.30L383.77 232.37L384.17 232.45L384.58 232.54L384.98 232.64L385.38 232.75L385.78 232.86L386.18 232.98L386.58 233.11L386.98 233.24L387.38 233.37L387.78 233.51L388.18 233.66L388.58 233.81L388.99 233.96L389.39 234.11L389.79 234.27L390.19 234.43L390.59 234.59L390.99 234.76L391.39 234.93L391.79 235.10L392.19 235.27L392.59 235.45L392.99 235.63L393.40 235.81L393.80 235.99L394.20 236.17L394.60 236.36L395.00 236.55L395.40 236.73L395.80 236.93L396.20 237.12L396.60 237.31L397.00 237.51L397.40 237.70L397.81 237.90L398.21 238.10L398.61 238.30L399.01 238.50L399.41 238.70L399.81 238.91L400.21 239.11L400.61 239.32L401.01 239.53L401.41 239.74L401.81 239.95L402.22 240.16L402.62 240.37L403.02 240.58L403.42 240.80L403.82 241.01L404.22 241.23L404.62 241.45L405.02 241.66L405.42 241.88L405.82 242.10L406.22 242.33L406.63 242.55L407.03 242.77L407.43 243.00L407.83 243.22L408.23 243.45L408.63 243.68L409.03 243.90L409.43 244.13L409.83 244.36L410.23 244.59L410.63 244.83L411.04 245.06L411.44 245.29L411.84 245.53L412.24 245.77L412.64 246.00L413.04 246.24L413.44 246.48L413.84 246.72L414.24 246.96L414.64 247.20L415.04 247.45L415.45 247.69L415.85 247.94L416.25 248.19L416.65 248.43L417.05 248.68L417.45 248.93L417.85 249.18L418.25 249.44L418.65 249.69L419.05 249.95L419.45 250.20L419.86 250.46L420.26 250.72L420.66 250.98L421.06 251.24L421.46 251.51L421.86 251.77L422.26 252.04L422.66 252.31L423.06 252.58L423.46 252.85L423.86 253.13L424.27 253.40L424.67 253.68L425.07 253.96L425.47 254.24L425.87 254.53L426.27 254.81L426.67 255.10L427.07 255.39L427.47 255.69L427.87 255.99L428.27 256.29L428.68 256.59L429.08 256.90L429.48 257.21L429.88 257.53L430.28 257.85L430.68 258.17L431.08 258.50L431.48 258.84L431.88 259.18L432.28 259.53L432.68 259.89L433.09 260.25L433.49 260.62L433.89 261.01L434.29 261.41L434.69 261.82L435.09 262.25L435.49 262.70L435.89 263.17L436.29 263.67L436.69 264.21L437.09 264.80L437.50 265.46L437.90 266.21L438.30 267.11L438.30 267.12L438.60 267.96L438.70 268.29L438.80 268.67L439.00 269.57L439.10 270.15L439.20 270.89L439.28 271.66L439.35 272.60L439.40 273.59L439.50 274.30L439.60 273.70L439.65 272.77L439.72 271.91L439.80 271.23L439.90 270.60L440.00 270.14L440.20 269.46L440.30 269.20L440.40 268.99L440.70 268.48L441.10 268.03L441.50 267.73L441.91 267.53L442.31 267.40L442.71 267.32L443.11 267.27L443.51 267.25L443.91 267.26L444.31 267.29L444.71 267.33L445.11 267.39L445.51 267.46L445.91 267.54L446.32 267.63L446.72 267.73L447.12 267.84L447.52 267.95L447.92 268.07L448.32 268.20L448.72 268.33L449.12 268.46L449.52 268.60L449.92 268.75L450.32 268.90L450.73 269.05L451.13 269.20L451.53 269.36L451.93 269.52L452.33 269.68L452.73 269.85L453.13 270.02L453.53 270.19L453.93 270.36L454.33 270.54L454.73 270.72L455.14 270.90L455.54 271.08L455.94 271.26L456.34 271.45L456.74 271.64L457.14 271.82L457.54 272.02L457.94 272.21L458.34 272.40L458.74 272.60L459.14 272.79L459.55 272.99L459.95 273.19L460.35 273.39L460.75 273.59L461.15 273.79L461.55 274.00L461.95 274.20L462.35 274.41L462.75 274.62L463.15 274.83L463.55 275.04L463.96 275.25L464.36 275.46L464.76 275.67L465.16 275.89L465.56 276.10L465.96 276.32L466.36 276.54L466.76 276.75L467.16 276.97L467.56 277.19L467.96 277.42L468.37 277.64L468.77 277.86L469.17 278.09L469.57 278.31L469.97 278.54L470.37 278.77L470.77 278.99L471.17 279.22L471.57 279.45L471.97 279.68L472.37 279.92L472.78 280.15L473.18 280.38L473.58 280.62L473.98 280.86L474.38 281.09L474.78 281.33L475.18 281.57L475.58 281.81L475.98 282.05L476.38 282.29L476.78 282.54L477.19 282.78L477.59 283.03L477.99 283.28L478.39 283.52L478.79 283.77L479.19 284.02L479.59 284.27L479.99 284.53L480.39 284.78L480.79 285.04L481.19 285.29L481.60 285.55L482.00 285.81L482.40 286.07L482.80 286.33L483.20 286.60L483.60 286.86L484.00 287.13L484.40 287.40L484.80 287.67L485.20 287.94L485.60 288.22L486.01 288.49L486.41 288.77L486.81 289.05L487.21 289.33L487.61 289.62L488.01 289.90L488.41 290.19L488.81 290.48L489.21 290.78L489.61 291.08L490.01 291.38L490.42 291.68L490.82 291.99L491.22 292.30L491.62 292.62L492.02 292.94L492.42 293.26L492.82 293.59L493.22 293.93L493.62 294.27L494.02 294.62L494.42 294.98L494.83 295.34L495.23 295.71L495.63 296.10L496.03 296.50L496.43 296.91L496.83 297.34L497.23 297.79L497.63 298.26L498.03 298.76L498.43 299.30L498.83 299.89L499.24 300.55L499.64 301.30L500.04 302.20L500.04 302.21L500.34 303.05L500.44 303.38L500.54 303.76L500.74 304.66L500.84 305.24L500.94 305.98L501.02 306.75L501.09 307.69L501.24 308.30L501.39 307.86L501.46 307.00L501.54 306.32L501.64 305.69L501.74 305.23L501.94 304.55L502.04 304.29L502.14 304.08L502.44 303.57L502.84 303.12L503.24 302.82L503.65 302.62L504.05 302.49L504.45 302.41L504.85 302.36L505.25 302.34L505.65 302.35L506.05 302.38L506.45 302.42L506.85 302.48L507.25 302.55L507.65 302.63L508.06 302.72L508.46 302.82L508.86 302.93L509.26 303.04L509.66 303.16L510.06 303.29L510.46 303.42L510.86 303.55L511.26 303.69L511.66 303.84L512.06 303.99L512.47 304.14L512.87 304.29L513.27 304.45L513.67 304.61L514.07 304.77L514.47 304.94L514.87 305.11L515.27 305.28L515.67 305.45L516.07 305.63L516.47 305.81L516.88 305.99L517.28 306.17L517.68 306.35L518.08 306.54L518.48 306.73L518.88 306.91L519.28 307.11L519.68 307.30L520.08 307.49L520.48 307.69L520.88 307.88L521.29 308.08L521.69 308.28L522.09 308.48L522.49 308.68L522.89 308.88L523.29 309.09L523.69 309.29L524.09 309.50L524.49 309.71L524.89 309.92L525.29 310.13L525.70 310.34L526.10 310.55L526.50 310.76L526.90 310.98L527.30 311.19L527.70 311.41L528.10 311.63L528.50 311.84L528.90 312.06L529.30 312.28L529.70 312.51L530.11 312.73L530.51 312.95L530.91 313.18L531.31 313.40L531.71 313.63L532.11 313.86L532.51 314.08L532.91 314.31L533.31 314.54L533.71 314.77L534.11 315.01L534.52 315.24L534.92 315.47L535.32 315.71L535.72 315.95L536.12 316.18L536.52 316.42L536.92 316.66L537.32 316.90L537.72 317.14L538.12 317.38L538.52 317.63L538.93 317.87L539.33 318.12L539.73 318.37L540.13 318.61L540.53 318.86L540.93 319.11L541.33 319.36L541.73 319.62L542.13 319.87L542.53 320.13L542.93 320.38L543.34 320.64L543.74 320.90L544.14 321.16L544.54 321.42L544.94 321.69L545.34 321.95L545.74 322.22L546.14 322.49L546.54 322.76L546.94 323.03L547.34 323.31L547.75 323.58L548.15 323.86L548.55 324.14L548.95 324.42L549.35 324.71L549.75 324.99L550.15 325.28L550.55 325.57L550.95 325.87L551.35 326.17L551.75 326.47L552.16 326.77L552.56 327.08L552.96 327.39L553.36 327.71L553.76 328.03L554.16 328.35L554.56 328.68L554.96 329.02L555.36 329.36L555.76 329.71L556.16 330.07L556.57 330.43L556.97 330.80L557.37 331.19L557.77 331.59L558.17 332.00L558.57 332.43L558.97 332.88L559.37 333.35L559.77 333.85L560.17 334.39L560.57 334.98L560.98 335.64L561.38 336.39L561.78 337.29L561.78 337.30L562.08 338.14L562.18 338.47L562.28 338.85L562.48 339.75L562.58 340.33L562.68 341.07L562.76 341.84L562.83 342.78L562.98 344.00L563.13 342.95L563.20 342.09L563.28 341.41L563.38 340.78L563.48 340.32L563.68 339.64L563.78 339.38L563.88 339.17L564.18 338.66L564.58 338.21L564.98 337.91L565.39 337.71L565.79 337.58L566.19 337.50L566.59 337.45L566.99 337.43L567.39 337.44L567.79 337.47L568.19 337.51L568.59 337.57L568.99 337.64L569.39 337.72L569.80 337.81L570.20 337.91L570.60 338.02L571.00 338.13L571.40 338.25L571.80 338.38L572.20 338.51L572.60 338.64L573.00 338.78L573.40 338.93L573.80 339.08L574.21 339.23L574.61 339.38L575.01 339.54L575.41 339.70L575.81 339.86L576.21 340.03L576.61 340.20L577.01 340.37L577.41 340.54L577.81 340.72L578.21 340.90L578.62 341.08L579.02 341.26L579.42 341.44L579.82 341.63L580.22 341.82L580.62 342.00L581.02 342.20L581.42 342.39L581.82 342.58L582.22 342.78L582.62 342.97L583.03 343.17L583.43 343.37L583.83 343.57L584.23 343.77L584.63 343.97L585.03 344.18L585.43 344.38L585.83 344.59L586.23 344.80L586.63 345.01L587.03 345.22L587.44 345.43L587.84 345.64L588.24 345.85L588.64 346.07L589.04 346.28L589.44 346.50L589.84 346.72L590.24 346.93L590.64 347.15L591.04 347.37L591.44 347.60L591.85 347.82L592.25 348.04L592.65 348.27L593.05 348.49L593.45 348.72L593.85 348.95L594.25 349.17L594.65 349.40L595.05 349.63L595.45 349.86L595.85 350.10L596.26 350.33L596.66 350.56L597.06 350.80L597.46 351.04L597.86 351.27L598.26 351.51L598.66 351.75L599.06 351.99L599.46 352.23L599.86 352.47L600.26 352.72L600.67 352.96L601.07 353.21L601.47 353.46L601.87 353.70L602.27 353.95L602.67 354.20L603.07 354.45L603.47 354.71L603.87 354.96L604.27 355.22L604.67 355.47L605.08 355.73L605.48 355.99L605.88 356.25L606.28 356.51L606.68 356.78L607.08 357.04L607.48 357.31L607.88 357.58L608.28 357.85L608.68 358.12L609.08 358.40L609.49 358.67L609.89 358.95L610.29 359.23L610.69 359.51L611.09 359.80L611.49 360.08L611.89 360.37L612.29 360.66L612.69 360.96L613.09 361.26L613.49 361.56L613.90 361.86L614.30 362.17L614.70 362.48L615.10 362.80L615.50 363.12L615.90 363.44L616.30 363.77L616.70 364.11L617.10 364.45L617.50 364.80L617.90 365.16L618.31 365.52L618.71 365.89L619.11 366.28L619.51 366.68L619.91 367.09L620.31 367.52L620.71 367.97L621.11 368.44L621.51 368.94L621.91 369.48L622.31 370.07L622.72 370.73L623.12 371.48L623.52 372.38L623.52 372.39L623.82 373.23L623.92 373.56L624.02 373.94L624.22 374.84L624.32 375.42L624.42 376.16L624.50 376.93L624.57 377.87L624.62 378.86L624.65 379.71L624.68 381.05L624.70 382.69L624.72 383.30L624.74 382.71L624.76 381.09L624.79 379.79L624.82 378.97L624.87 378.04L624.94 377.18L625.02 376.50L625.12 375.87L625.22 375.41L625.42 374.73L625.52 374.47L625.62 374.26L625.92 373.75L626.32 373.30L626.72 373.00L627.13 372.80L627.53 372.67L627.93 372.59L628.33 372.54L628.73 372.52L629.13 372.53L629.53 372.56L629.93 372.60L630.33 372.66L630.73 372.73L631.13 372.81L631.54 372.90L631.94 373.00L632.34 373.11L632.74 373.22L633.14 373.34L633.54 373.47L633.94 373.60L634.34 373.73L634.74 373.87L635.14 374.02L635.54 374.17L635.95 374.32L636.35 374.47L636.75 374.63L637.15 374.79L637.55 374.95L637.95 375.12L638.35 375.29L638.75 375.46L639.15 375.63L639.55 375.81L639.95 375.99L640.36 376.17L640.76 376.35L641.16 376.53L641.56 376.72L641.96 376.91L642.36 377.09L642.76 377.29L643.16 377.48L643.56 377.67L643.96 377.87L644.36 378.06L644.77 378.26L645.17 378.46L645.57 378.66L645.97 378.86L646.37 379.06L646.77 379.27L647.17 379.47L647.57 379.68L647.97 379.89L648.37 380.10L648.77 380.31L649.18 380.52L649.58 380.73L649.98 380.94L650.38 381.16L650.78 381.37L651.18 381.59L651.58 381.81L651.98 382.02L652.38 382.24L652.78 382.46L653.18 382.69L653.59 382.91L653.99 383.13L654.39 383.36L654.79 383.58L655.19 383.81L655.59 384.04L655.99 384.26L656.39 384.49L656.79 384.72L657.19 384.95L657.59 385.19L658.00 385.42L658.40 385.65L658.80 385.89L659.20 386.13L659.60 386.36L660.00 386.60L660.40 386.84L660.80 387.08L661.20 387.32L661.60 387.56L662.00 387.81L662.41 388.05L662.81 388.30L663.21 388.55L663.61 388.79L664.01 389.04L664.41 389.29L664.81 389.54L665.21 389.80L665.61 390.05L666.01 390.31L666.41 390.56L666.82 390.82L667.22 391.08L667.62 391.34L668.02 391.60L668.42 391.87L668.82 392.13L669.22 392.40L669.62 392.67L670.02 392.94L670.42 393.21L670.82 393.49L671.23 393.76L671.63 394.04L672.03 394.32L672.43 394.60L672.83 394.89L673.23 395.17L673.63 395.46L674.03 395.75L674.43 396.05L674.83 396.35L675.23 396.65L675.64 396.95L676.04 397.26L676.44 397.57L676.84 397.89L677.24 398.21L677.64 398.53L678.04 398.86L678.44 399.20L678.84 399.54L679.24 399.89L679.64 400.25L680.05 400.61L680.45 400.98L680.85 401.37L681.25 401.77L681.65 402.18L682.05 402.61L682.45 403.06L682.85 403.53L683.25 404.03L683.65 404.57L684.05 405.16L684.46 405.82L684.86 406.57L685.26 407.47L685.26 407.48L685.56 408.32L685.66 408.65L685.76 409.03L685.96 409.93L686.06 410.51L686.16 411.25L686.24 412.02L686.46 412.70L686.68 412.27L686.76 411.59L686.86 410.96L686.96 410.50L687.16 409.82L687.26 409.56L687.36 409.35L687.66 408.84L688.06 408.39L688.46 408.09L688.87 407.89L689.27 407.76L689.67 407.68L690.07 407.63L690.47 407.61L690.87 407.62L691.27 407.65L691.67 407.69L692.07 407.75L692.47 407.82L692.87 407.90L693.28 407.99L693.68 408.09L694.08 408.20L694.48 408.31L694.88 408.43L695.28 408.56L695.68 408.69L696.08 408.82L696.48 408.96L696.88 409.11L697.28 409.26L697.69 409.41L698.09 409.56L698.49 409.72L698.89 409.88L699.29 410.04L699.69 410.21L700.09 410.38L700.49 410.55L700.89 410.72L701.29 410.90L701.69 411.08L702.10 411.26L702.50 411.44L702.90 411.62L703.30 411.81L703.70 412.00L704.10 412.18L704.50 412.38L704.90 412.57L705.30 412.76L705.70 412.96L706.10 413.15L706.51 413.35L706.91 413.55L707.31 413.75L707.71 413.95L708.11 414.15L708.51 414.36L708.91 414.56L709.31 414.77L709.71 414.98L710.11 415.19L710.51 415.40L710.92 415.61L711.32 415.82L711.72 416.03L712.12 416.25L712.52 416.46L712.92 416.68L713.32 416.90L713.72 417.11L714.12 417.33L714.52 417.55L714.92 417.78L715.33 418.00L715.73 418.22L716.13 418.45L716.53 418.67L716.93 418.90L717.33 419.13L717.73 419.35L718.13 419.58L718.53 419.81L718.93 420.04L719.33 420.28L719.74 420.51L720.14 420.74L720.54 420.98L720.94 421.22L721.34 421.45L721.74 421.69L722.14 421.93L722.54 422.17L722.94 422.41L723.34 422.65L723.74 422.90L724.15 423.14L724.55 423.39L724.95 423.64L725.35 423.88L725.75 424.13L726.15 424.38L726.55 424.63L726.95 424.89L727.35 425.14L727.75 425.40L728.15 425.65L728.56 425.91L728.96 426.17L729.36 426.43L729.76 426.69L730.16 426.96L730.56 427.22L730.96 427.49L731.36 427.76L731.76 428.03L732.16 428.30L732.56 428.58L732.97 428.85L733.37 429.13L733.77 429.41L734.17 429.69L734.57 429.98L734.97 430.26L735.37 430.55L735.77 430.84L736.17 431.14L736.57 431.44L736.97 431.74L737.38 432.04L737.78 432.35L738.18 432.66L738.58 432.98L738.98 433.30L739.38 433.62L739.78 433.95L740.18 434.29L740.58 434.63L740.98 434.98L741.38 435.34L741.79 435.70L742.19 436.07L742.59 436.46L742.99 436.86L743.39 437.27L743.79 437.70L744.19 438.15L744.59 438.62L744.99 439.12L745.39 439.66L745.79 440.25L746.20 440.91L746.60 441.66L747.00 442.56L747.00 442.57L747.30 443.41L747.40 443.74L747.50 444.12L747.70 445.02L747.80 445.60L747.90 446.34L747.98 447.11L748.05 448.05L748.20 448.60L748.35 448.22L748.42 447.36L748.50 446.68L748.60 446.05L748.70 445.59L748.90 444.91L749.00 444.65L749.10 444.44L749.40 443.93L749.80 443.48L750.20 443.18L750.61 442.98L751.01 442.85L751.41 442.77L751.81 442.72L752.21 442.70L752.61 442.71L753.01 442.74L753.41 442.78L753.81 442.84L754.21 442.91L754.61 442.99L755.02 443.08L755.42 443.18L755.82 443.29L756.22 443.40L756.62 443.52L757.02 443.65L757.42 443.78L757.82 443.91L758.22 444.05L758.62 444.20L759.02 444.35L759.43 444.50L759.83 444.65L760.23 444.81L760.63 444.97L761.03 445.13L761.43 445.30L761.83 445.47L762.23 445.64L762.63 445.81L763.03 445.99L763.43 446.17L763.84 446.35L764.24 446.53L764.64 446.71L765.04 446.90L765.44 447.09L765.84 447.27L766.24 447.47L766.64 447.66L767.04 447.85L767.44 448.05L767.84 448.24L768.25 448.44L768.65 448.64L769.05 448.84L769.45 449.04L769.85 449.24L770.25 449.45L770.65 449.65L771.05 449.86L771.45 450.07L771.85 450.28L772.25 450.49L772.66 450.70L773.06 450.91L773.46 451.12L773.86 451.34L774.26 451.55L774.66 451.77L775.06 451.99L775.46 452.20L775.86 452.42L776.26 452.64L776.66 452.87L777.07 453.09L777.47 453.31L777.87 453.54L778.27 453.76L778.67 453.99L779.07 454.22L779.47 454.44L779.87 454.67L780.27 454.90L780.67 455.13L781.07 455.37L781.48 455.60L781.88 455.83L782.28 456.07L782.68 456.31L783.08 456.54L783.48 456.78L783.88 457.02L784.28 457.26L784.68 457.50L785.08 457.74L785.48 457.99L785.89 458.23L786.29 458.48L786.69 458.73L787.09 458.97L787.49 459.22L787.89 459.47L788.29 459.72L788.69 459.98L789.09 460.23L789.49 460.49L789.89 460.74L790.30 461.00L790.70 461.26L791.10 461.52L791.50 461.78L791.90 462.05L792.30 462.31L792.70 462.58L793.10 462.85L793.50 463.12L793.90 463.39L794.30 463.67L794.71 463.94L795.11 464.22L795.51 464.50L795.91 464.78L796.31 465.07L796.71 465.35L797.11 465.64L797.51 465.93L797.91 466.23L798.31 466.53L798.71 466.83L799.12 467.13L799.52 467.44L799.92 467.75L800.32 468.07L800.72 468.39L801.12 468.71L801.52 469.04L801.92 469.38L802.32 469.72L802.72 470.07L803.12 470.43L803.53 470.79L802.86 470.15L803.53 470.79L803.71 470.98L803.92 471.20L804.16 471.44L804.43 471.71L804.71 472.00L805.01 472.30L805.32 472.62L805.64 472.95L805.96 473.28L806.28 473.62L806.59 473.95L806.89 474.28L807.18 474.60L807.45 474.91L807.70 475.20L807.99 475.55L808.27 475.90L808.54 476.24L808.80 476.58L809.05 476.92L809.29 477.26L809.53 477.59L809.75 477.93L809.98 478.27L810.19 478.61L810.40 478.95L810.60 479.30L810.81 479.69L811.02 480.08L811.21 480.48L811.40 480.89L811.58 481.29L811.75 481.70L811.91 482.09L812.07 482.49L812.22 482.87L812.36 483.24L812.50 483.60L812.68 484.07L812.84 484.53L812.98 484.96L813.12 485.39L813.24 485.80L813.36 486.21L813.48 486.61L813.60 487.00L813.74 487.47L813.87 487.95L814.01 488.43L814.13 488.89L814.24 489.30L814.33 489.64L814.40 489.90"/>
<path stroke="#ff8000" d="M54.60 31.40L54.62 31.68L54.64 32.06L54.67 32.52L54.71 33.01L54.75 33.52L54.80 34.00L54.84 34.40L54.89 34.82L54.94 35.25L55.00 35.68L55.06 36.10L55.13 36.51L55.20 36.90L55.29 37.33L55.39 37.75L55.49 38.15L55.61 38.54L55.75 38.92L55.90 39.30L56.06 39.67L56.23 40.03L56.42 40.38L56.63 40.72L56.89 41.06L57.20 41.40L57.47 41.65L57.77 41.91L58.10 42.16L58.45 42.41L58.82 42.65L59.20 42.90L59.60 43.15L60.00 43.40L60.33 43.60L60.68 43.80L61.04 44.00L61.41 44.20L61.79 44.39L62.17 44.59L62.55 44.79L62.94 44.99L63.32 45.20L63.70 45.40L64.08 45.60L64.46 45.81L64.84 46.01L65.22 46.22L65.60 46.42L65.98 46.63L66.36 46.84L66.74 47.06L67.12 47.28L67.50 47.50L67.84 47.71L68.19 47.91L68.54 48.12L68.89 48.34L69.24 48.55L69.58 48.77L69.93 48.99L70.26 49.22L70.58 49.44L70.90 49.67L71.20 49.90L71.56 50.19L71.91 50.48L72.24 50.78L72.57 51.08L72.89 51.39L73.19 51.70L73.48 52.00L73.75 52.30L74.00 52.60L74.30 52.98L74.57 53.35L74.82 53.72L75.04 54.09L75.24 54.46L75.43 54.83L75.60 55.20L75.77 55.60L75.91 55.96L76.02 56.32L76.12 56.72L76.21 57.20L76.30 57.80L76.34 58.14L76.38 58.54L76.42 58.98L76.46 59.46L76.49 59.95L76.53 60.46L76.56 60.96L76.59 61.45L76.62 61.92L76.64 62.35L76.66 62.73L76.68 63.05L76.70 63.30L77.50 57.11L77.60 56.87L77.90 56.28L78.30 55.72L78.70 55.31L79.10 55.00L79.50 54.75L79.90 54.56L80.30 54.40L80.70 54.27L81.10 54.17L81.50 54.08L81.90 54.01L82.30 53.96L82.70 53.91L83.10 53.88L83.50 53.86L83.90 53.84L84.30 53.84L84.70 53.84L85.10 53.84L85.50 53.85L85.90 53.87L86.30 53.89L86.70 53.92L87.10 53.94L87.50 53.98L87.90 54.01L88.30 54.05L88.70 54.10L89.10 54.14L89.50 54.19L89.90 54.24L90.30 54.29L90.70 54.35L91.10 54.40L91.50 54.46L91.90 54.52L92.30 54.59L92.70 54.65L93.10 54.72L93.50 54.79L93.90 54.85L94.30 54.93L94.70 55.00L95.10 55.07L95.50 55.15L95.90 55.22L96.30 55.30L96.70 55.38L97.10 55.46L97.50 55.54L97.90 55.62L98.30 55.70L98.70 55.79L99.10 55.87L99.50 55.96L99.90 56.04L100.30 56.13L100.70 56.22L101.10 56.31L101.50 56.40L101.90 56.49L102.30 56.58L102.70 56.68L103.10 56.77L103.50 56.86L103.90 56.96L104.30 57.05L104.70 57.15L105.10 57.25L105.50 57.35L105.90 57.44L106.30 57.54L106.70 57.64L107.10 57.74L107.50 57.84L107.90 57.95L108.30 58.05L108.70 58.15L109.10 58.26L109.50 58.36L109.90 58.46L110.30 58.57L110.70 58.68L111.10 58.78L111.50 58.89L111.90 59.00L112.30 59.11L112.70 59.21L113.10 59.32L113.50 59.43L113.90 59.54L114.30 59.65L114.70 59.77L115.10 59.88L115.50 59.99L115.90 60.10L116.30 60.22L116.70 60.33L117.10 60.45L117.50 60.56L117.90 60.68L118.30 60.79L118.70 60.91L119.10 61.03L119.50 61.15L119.90 61.27L120.30 61.38L120.70 61.50L121.10 61.62L121.50 61.75L121.90 61.87L122.30 61.99L122.70 62.11L123.10 62.23L123.50 62.36L123.90 62.48L124.30 62.60L124.70 62.73L125.10 62.86L125.50 62.98L125.90 63.11L126.30 63.24L126.70 63.36L127.10 63.49L127.50 63.62L127.90 63.75L128.30 63.88L128.70 64.01L129.10 64.14L129.50 64.28L129.90 64.41L130.30 64.54L130.70 64.68L131.10 64.81L131.50 64.95L131.90 65.08L132.30 65.22L132.70 65.36L133.10 65.49L133.50 65.63L133.90 65.77L134.30 65.91L134.70 66.05L135.10 66.20L135.50 66.34L135.90 66.48L136.30 66.63L136.70 66.77L137.10 66.92L137.50 67.07L137.90 67.21L138.30 67.36L138.70 67.51L139.10 67.66L139.50 67.82L139.90 67.97L140.30 68.12L140.70 68.28L141.10 68.44L141.50 68.59L141.90 68.75L142.30 68.91L142.70 69.07L143.10 69.24L143.50 69.40L143.90 69.57L144.30 69.74L144.70 69.90L145.10 70.08L145.50 70.25L145.90 70.42L146.30 70.60L146.70 70.78L147.10 70.96L147.50 71.14L147.90 71.33L148.30 71.52L148.70 71.71L149.10 71.90L149.50 72.10L149.90 72.30L150.30 72.51L150.70 72.72L151.10 72.93L151.50 73.15L151.90 73.37L152.30 73.60L152.70 73.83L153.10 74.07L153.50 74.32L153.90 74.58L154.30 74.84L154.70 75.12L155.10 75.41L155.50 75.71L155.90 76.03L156.30 76.37L156.70 76.73L157.10 77.13L157.50 77.55L157.90 78.03L158.30 78.58L158.70 79.22L159.10 80.01L159.40 80.78L159.50 81.08L159.60 81.43L159.80 82.28L159.90 82.83L160.30 88.30L160.70 81.85L160.80 81.36L161.00 80.62L161.10 80.33L161.20 80.09L161.50 79.49L161.50 79.48L161.90 78.92L162.30 78.50L162.71 78.18L163.11 77.92L163.51 77.72L163.91 77.55L164.31 77.41L164.71 77.29L165.11 77.20L165.51 77.12L165.91 77.05L166.31 77.00L166.71 76.96L167.11 76.92L167.52 76.90L167.92 76.88L168.32 76.87L168.72 76.87L169.12 76.87L169.52 76.87L169.92 76.88L170.32 76.90L170.72 76.92L171.12 76.94L171.52 76.96L171.92 76.99L172.33 77.02L172.73 77.06L173.13 77.10L173.53 77.14L173.93 77.18L174.33 77.22L174.73 77.27L175.13 77.31L175.53 77.36L175.93 77.42L176.33 77.47L176.73 77.52L177.14 77.58L177.54 77.64L177.94 77.70L178.34 77.76L178.74 77.82L179.14 77.88L179.54 77.95L179.94 78.01L180.34 78.08L180.74 78.15L181.14 78.22L181.54 78.29L181.95 78.36L182.35 78.43L182.75 78.50L183.15 78.58L183.55 78.65L183.95 78.73L184.35 78.80L184.75 78.88L185.15 78.96L185.55 79.04L185.95 79.11L186.35 79.19L186.76 79.28L187.16 79.36L187.56 79.44L187.96 79.52L188.36 79.61L188.76 79.69L189.16 79.77L189.56 79.86L189.96 79.95L190.36 80.03L190.76 80.12L191.16 80.21L191.57 80.30L191.97 80.39L192.37 80.47L192.77 80.57L193.17 80.66L193.57 80.75L193.97 80.84L194.37 80.93L194.77 81.02L195.17 81.12L195.57 81.21L195.98 81.30L196.38 81.40L196.78 81.49L197.18 81.59L197.58 81.69L197.98 81.78L198.38 81.88L198.78 81.98L199.18 82.07L199.58 82.17L199.98 82.27L200.38 82.37L200.79 82.47L201.19 82.57L201.59 82.67L201.99 82.77L202.39 82.87L202.79 82.97L203.19 83.08L203.59 83.18L203.99 83.28L204.39 83.39L204.79 83.49L205.19 83.59L205.60 83.70L206.00 83.80L206.40 83.91L206.80 84.02L207.20 84.12L207.60 84.23L208.00 84.34L208.40 84.44L208.80 84.55L209.20 84.66L209.60 84.77L210.00 84.88L210.41 84.99L210.81 85.10L211.21 85.21L211.61 85.32L212.01 85.43L212.41 85.54L212.81 85.66L213.21 85.77L213.61 85.88L214.01 85.99L214.41 86.11L214.81 86.22L215.22 86.34L215.62 86.45L216.02 86.57L216.42 86.68L216.82 86.80L217.22 86.92L217.62 87.04L218.02 87.15L218.42 87.27L218.82 87.39L219.22 87.51L219.62 87.63L220.03 87.75L220.43 87.87L220.83 87.99L221.23 88.11L221.63 88.24L222.03 88.36L222.43 88.48L222.83 88.61L223.23 88.73L223.63 88.86L224.03 88.98L224.44 89.11L224.84 89.23L225.24 89.36L225.64 89.49L226.04 89.62L226.44 89.75L226.84 89.88L227.24 90.01L227.64 90.14L228.04 90.27L228.44 90.40L228.84 90.53L229.25 90.67L229.65 90.80L230.05 90.94L230.45 91.07L230.85 91.21L231.25 91.35L231.65 91.49L232.05 91.62L232.45 91.76L232.85 91.91L233.25 92.05L233.65 92.19L234.06 92.33L234.46 92.48L234.86 92.62L235.26 92.77L235.66 92.92L236.06 93.07L236.46 93.22L236.86 93.37L237.26 93.52L237.66 93.67L238.06 93.83L238.46 93.99L238.87 94.14L239.27 94.30L239.67 94.46L240.07 94.63L240.47 94.79L240.87 94.96L241.27 95.13L241.67 95.30L242.07 95.47L242.47 95.65L242.87 95.82L243.27 96.00L243.68 96.19L244.08 96.37L244.48 96.56L244.88 96.75L245.28 96.95L245.68 97.15L246.08 97.35L246.48 97.56L246.88 97.78L247.28 98.00L247.68 98.22L248.08 98.45L248.49 98.69L248.89 98.94L249.29 99.20L249.69 99.46L250.09 99.74L250.49 100.04L250.89 100.35L251.29 100.68L251.69 101.03L252.09 101.41L252.49 101.83L252.89 102.30L253.30 102.84L253.70 103.47L254.10 104.25L254.10 104.26L255.30 110.60L256.50 104.86L256.91 104.29L257.31 103.87L257.71 103.55L258.11 103.30L258.51 103.09L258.91 102.92L259.31 102.78L259.71 102.67L260.12 102.57L260.52 102.49L260.92 102.43L261.32 102.37L261.72 102.33L262.12 102.30L262.52 102.28L262.92 102.26L263.33 102.25L263.73 102.24L264.13 102.24L264.53 102.25L264.93 102.26L265.33 102.28L265.73 102.29L266.13 102.32L266.54 102.34L266.94 102.37L267.34 102.40L267.74 102.44L268.14 102.47L268.54 102.51L268.94 102.56L269.35 102.60L269.75 102.65L270.15 102.69L270.55 102.74L270.95 102.80L271.35 102.85L271.75 102.91L272.15 102.96L272.56 103.02L272.96 103.08L273.36 103.14L273.76 103.20L274.16 103.27L274.56 103.33L274.96 103.40L275.36 103.46L275.77 103.53L276.17 103.60L276.57 103.67L276.97 103.74L277.37 103.82L277.77 103.89L278.17 103.96L278.57 104.04L278.98 104.11L279.38 104.19L279.78 104.27L280.18 104.35L280.58 104.43L280.98 104.51L281.38 104.59L281.78 104.67L282.19 104.75L282.59 104.83L282.99 104.92L283.39 105.00L283.79 105.08L284.19 105.17L284.59 105.26L285.00 105.34L285.40 105.43L285.80 105.52L286.20 105.60L286.60 105.69L287.00 105.78L287.40 105.87L287.80 105.96L288.21 106.06L288.61 106.15L289.01 106.24L289.41 106.33L289.81 106.43L290.21 106.52L290.61 106.61L291.01 106.71L291.42 106.80L291.82 106.90L292.22 107.00L292.62 107.09L293.02 107.19L293.42 107.29L293.82 107.38L294.22 107.48L294.63 107.58L295.03 107.68L295.43 107.78L295.83 107.88L296.23 107.98L296.63 108.08L297.03 108.19L297.44 108.29L297.84 108.39L298.24 108.49L298.64 108.60L299.04 108.70L299.44 108.81L299.84 108.91L300.24 109.02L300.65 109.12L301.05 109.23L301.45 109.33L301.85 109.44L302.25 109.55L302.65 109.66L303.05 109.76L303.45 109.87L303.86 109.98L304.26 110.09L304.66 110.20L305.06 110.31L305.46 110.42L305.86 110.53L306.26 110.65L306.66 110.76L307.07 110.87L307.47 110.98L307.87 111.10L308.27 111.21L308.67 111.32L309.07 111.44L309.47 111.55L309.88 111.67L310.28 111.79L310.68 111.90L311.08 112.02L311.48 112.14L311.88 112.26L312.28 112.37L312.68 112.49L313.09 112.61L313.49 112.73L313.89 112.85L314.29 112.97L314.69 113.09L315.09 113.22L315.49 113.34L315.89 113.46L316.30 113.59L316.70 113.71L317.10 113.83L317.50 113.96L317.90 114.09L318.30 114.21L318.70 114.34L319.10 114.47L319.51 114.59L319.91 114.72L320.31 114.85L320.71 114.98L321.11 115.11L321.51 115.24L321.91 115.38L322.32 115.51L322.72 115.64L323.12 115.78L323.52 115.91L323.92 116.05L324.32 116.18L324.72 116.32L325.12 116.46L325.53 116.60L325.93 116.74L326.33 116.88L326.73 117.02L327.13 117.16L327.53 117.30L327.93 117.45L328.33 117.59L328.74 117.74L329.14 117.89L329.54 118.04L329.94 118.19L330.34 118.34L330.74 118.49L331.14 118.64L331.54 118.80L331.95 118.96L332.35 119.11L332.75 119.27L333.15 119.44L333.55 119.60L333.95 119.76L334.35 119.93L334.75 120.10L335.16 120.27L335.56 120.44L335.96 120.62L336.36 120.79L336.76 120.97L337.16 121.16L337.56 121.34L337.97 121.53L338.37 121.72L338.77 121.92L339.17 122.12L339.57 122.32L339.97 122.53L340.37 122.75L340.77 122.96L341.18 123.19L341.58 123.42L341.98 123.66L342.38 123.91L342.78 124.17L343.18 124.43L343.58 124.71L343.98 125.01L344.39 125.32L344.79 125.65L345.19 126.00L345.59 126.38L345.99 126.80L346.39 127.27L346.79 127.81L347.19 128.44L347.60 129.22L347.60 129.23L348.80 135.60L350.00 129.91L350.40 129.34L350.80 128.92L351.20 128.60L351.60 128.35L352.00 128.14L352.40 127.97L352.80 127.83L353.20 127.72L353.61 127.62L354.01 127.54L354.41 127.48L354.81 127.42L355.21 127.38L355.61 127.35L356.01 127.32L356.41 127.30L356.81 127.29L357.21 127.29L357.61 127.29L358.01 127.29L358.41 127.30L358.81 127.32L359.21 127.34L359.61 127.36L360.01 127.39L360.41 127.41L360.81 127.45L361.21 127.48L361.61 127.52L362.01 127.56L362.41 127.60L362.81 127.64L363.22 127.69L363.62 127.73L364.02 127.78L364.42 127.84L364.82 127.89L365.22 127.94L365.62 128.00L366.02 128.06L366.42 128.12L366.82 128.18L367.22 128.24L367.62 128.30L368.02 128.37L368.42 128.43L368.82 128.50L369.22 128.57L369.62 128.63L370.02 128.70L370.42 128.78L370.82 128.85L371.22 128.92L371.62 128.99L372.02 129.07L372.42 129.14L372.83 129.22L373.23 129.30L373.63 129.37L374.03 129.45L374.43 129.53L374.83 129.61L375.23 129.69L375.63 129.77L376.03 129.86L376.43 129.94L376.83 130.02L377.23 130.11L377.63 130.19L378.03 130.28L378.43 130.36L378.83 130.45L379.23 130.54L379.63 130.62L380.03 130.71L380.43 130.80L380.83 130.89L381.23 130.98L381.63 131.07L382.04 131.16L382.44 131.25L382.84 131.34L383.24 131.44L383.64 131.53L384.04 131.62L384.44 131.72L384.84 131.81L385.24 131.91L385.64 132.00L386.04 132.10L386.44 132.19L386.84 132.29L387.24 132.39L387.64 132.49L388.04 132.59L388.44 132.68L388.84 132.78L389.24 132.88L389.64 132.98L390.04 133.08L390.44 133.18L390.84 133.28L391.24 133.39L391.65 133.49L392.05 133.59L392.45 133.69L392.85 133.80L393.25 133.90L393.65 134.01L394.05 134.11L394.45 134.22L394.85 134.32L395.25 134.43L395.65 134.53L396.05 134.64L396.45 134.75L396.85 134.85L397.25 134.96L397.65 135.07L398.05 135.18L398.45 135.29L398.85 135.40L399.25 135.51L399.65 135.62L400.05 135.73L400.45 135.84L400.85 135.95L401.26 136.06L401.66 136.18L402.06 136.29L402.46 136.40L402.86 136.52L403.26 136.63L403.66 136.75L404.06 136.86L404.46 136.98L404.86 137.09L405.26 137.21L405.66 137.33L406.06 137.44L406.46 137.56L406.86 137.68L407.26 137.80L407.66 137.92L408.06 138.04L408.46 138.16L408.86 138.28L409.26 138.40L409.66 138.52L410.06 138.64L410.46 138.77L410.87 138.89L411.27 139.01L411.67 139.14L412.07 139.26L412.47 139.39L412.87 139.51L413.27 139.64L413.67 139.77L414.07 139.89L414.47 140.02L414.87 140.15L415.27 140.28L415.67 140.41L416.07 140.54L416.47 140.67L416.87 140.81L417.27 140.94L417.67 141.07L418.07 141.21L418.47 141.34L418.87 141.48L419.27 141.61L419.67 141.75L420.08 141.89L420.48 142.03L420.88 142.17L421.28 142.31L421.68 142.45L422.08 142.59L422.48 142.74L422.88 142.88L423.28 143.03L423.68 143.17L424.08 143.32L424.48 143.47L424.88 143.62L425.28 143.77L425.68 143.92L426.08 144.08L426.48 144.23L426.88 144.39L427.28 144.55L427.68 144.71L428.08 144.87L428.48 145.03L428.88 145.19L429.28 145.36L429.69 145.53L430.09 145.70L430.49 145.87L430.89 146.05L431.29 146.22L431.69 146.40L432.09 146.59L432.49 146.77L432.89 146.96L433.29 147.15L433.69 147.35L434.09 147.55L434.49 147.75L434.89 147.96L435.29 148.18L435.69 148.39L436.09 148.62L436.49 148.85L436.89 149.09L437.29 149.34L437.69 149.59L438.09 149.86L438.49 150.14L438.89 150.44L439.30 150.75L439.70 151.08L440.10 151.43L440.50 151.81L440.90 152.23L441.30 152.70L441.70 153.24L442.10 153.87L442.50 154.65L443.70 159.30L444.90 155.27L445.30 154.70L445.70 154.29L446.10 153.97L446.50 153.71L446.90 153.51L447.30 153.34L447.70 153.20L448.10 153.08L448.50 152.98L448.90 152.91L449.30 152.84L449.70 152.79L450.10 152.74L450.50 152.71L450.90 152.69L451.30 152.67L451.70 152.66L452.10 152.65L452.50 152.65L452.90 152.66L453.30 152.67L453.70 152.68L454.10 152.70L454.50 152.72L454.90 152.75L455.30 152.78L455.70 152.81L456.10 152.84L456.50 152.88L456.90 152.92L457.30 152.96L457.70 153.00L458.10 153.05L458.50 153.10L458.90 153.15L459.30 153.20L459.70 153.25L460.10 153.31L460.50 153.36L460.90 153.42L461.30 153.48L461.70 153.54L462.10 153.60L462.50 153.66L462.90 153.73L463.30 153.79L463.70 153.86L464.10 153.93L464.50 154.00L464.90 154.07L465.30 154.14L465.70 154.21L466.10 154.28L466.50 154.36L466.90 154.43L467.30 154.51L467.70 154.58L468.10 154.66L468.50 154.74L468.90 154.82L469.30 154.90L469.70 154.98L470.10 155.06L470.50 155.14L470.90 155.22L471.30 155.30L471.70 155.39L472.10 155.47L472.50 155.55L472.90 155.64L473.30 155.73L473.70 155.81L474.10 155.90L474.50 155.99L474.90 156.08L475.30 156.17L475.70 156.25L476.10 156.34L476.50 156.44L476.90 156.53L477.30 156.62L477.70 156.71L478.10 156.80L478.50 156.90L478.90 156.99L479.30 157.08L479.70 157.18L480.10 157.27L480.50 157.37L480.90 157.47L481.30 157.56L481.70 157.66L482.10 157.76L482.50 157.85L482.90 157.95L483.30 158.05L483.70 158.15L484.10 158.25L484.50 158.35L484.90 158.45L485.30 158.55L485.70 158.65L486.10 158.76L486.50 158.86L486.90 158.96L487.30 159.06L487.70 159.17L488.10 159.27L488.50 159.38L488.90 159.48L489.30 159.59L489.70 159.69L490.10 159.80L490.50 159.90L490.90 160.01L491.30 160.12L491.70 160.23L492.10 160.34L492.50 160.44L492.90 160.55L493.30 160.66L493.70 160.77L494.10 160.88L494.50 160.99L494.90 161.11L495.30 161.22L495.70 161.33L496.10 161.44L496.50 161.55L496.90 161.67L497.30 161.78L497.70 161.90L498.10 162.01L498.50 162.13L498.90 162.24L499.30 162.36L499.70 162.47L500.10 162.59L500.50 162.71L500.90 162.83L501.30 162.94L501.70 163.06L502.10 163.18L502.50 163.30L502.90 163.42L503.30 163.54L503.70 163.67L504.10 163.79L504.50 163.91L504.90 164.03L505.30 164.16L505.70 164.28L506.10 164.40L506.50 164.53L506.90 164.65L507.30 164.78L507.70 164.91L508.10 165.04L508.50 165.16L508.90 165.29L509.30 165.42L509.70 165.55L510.10 165.68L510.50 165.81L510.90 165.94L511.30 166.08L511.70 166.21L512.10 166.34L512.50 166.48L512.90 166.61L513.30 166.75L513.70 166.89L514.10 167.03L514.50 167.16L514.90 167.30L515.30 167.44L515.70 167.59L516.10 167.73L516.50 167.87L516.90 168.01L517.30 168.16L517.70 168.31L518.10 168.45L518.50 168.60L518.90 168.75L519.30 168.90L519.70 169.05L520.10 169.21L520.50 169.36L520.90 169.52L521.30 169.68L521.70 169.84L522.10 170.00L522.50 170.16L522.90 170.32L523.30 170.49L523.70 170.66L524.10 170.83L524.50 171.00L524.90 171.18L525.30 171.35L525.70 171.53L526.10 171.72L526.50 171.90L526.90 172.09L527.30 172.28L527.70 172.48L528.10 172.68L528.50 172.88L528.90 173.09L529.30 173.30L529.70 173.52L530.10 173.75L530.50 173.98L530.90 174.22L531.30 174.46L531.70 174.72L532.10 174.99L532.50 175.27L532.90 175.56L533.30 175.87L533.70 176.20L534.10 176.56L534.50 176.94L534.90 177.36L535.30 177.83L535.70 178.36L536.10 178.99L536.50 179.78L537.70 185.00L538.90 180.43L538.90 180.42L539.31 179.85L539.71 179.43L540.11 179.11L540.51 178.86L540.91 178.65L541.31 178.48L541.71 178.35L542.11 178.23L542.52 178.13L542.92 178.05L543.32 177.99L543.72 177.94L544.12 177.89L544.52 177.86L544.92 177.84L545.32 177.82L545.73 177.81L546.13 177.80L546.53 177.81L546.93 177.81L547.33 177.82L547.73 177.84L548.13 177.86L548.53 177.88L548.94 177.90L549.34 177.93L549.74 177.96L550.14 178.00L550.54 178.04L550.94 178.07L551.34 178.12L551.74 178.16L552.15 178.21L552.55 178.26L552.95 178.31L553.35 178.36L553.75 178.41L554.15 178.47L554.55 178.52L554.95 178.58L555.36 178.64L555.76 178.70L556.16 178.76L556.56 178.83L556.96 178.89L557.36 178.96L557.76 179.02L558.17 179.09L558.57 179.16L558.97 179.23L559.37 179.30L559.77 179.37L560.17 179.45L560.57 179.52L560.97 179.60L561.38 179.67L561.78 179.75L562.18 179.83L562.58 179.90L562.98 179.98L563.38 180.06L563.78 180.14L564.18 180.22L564.59 180.31L564.99 180.39L565.39 180.47L565.79 180.55L566.19 180.64L566.59 180.72L566.99 180.81L567.39 180.90L567.80 180.98L568.20 181.07L568.60 181.16L569.00 181.25L569.40 181.34L569.80 181.43L570.20 181.52L570.60 181.61L571.01 181.70L571.41 181.79L571.81 181.88L572.21 181.98L572.61 182.07L573.01 182.16L573.41 182.26L573.81 182.35L574.22 182.45L574.62 182.55L575.02 182.64L575.42 182.74L575.82 182.84L576.22 182.93L576.62 183.03L577.03 183.13L577.43 183.23L577.83 183.33L578.23 183.43L578.63 183.53L579.03 183.63L579.43 183.73L579.83 183.83L580.24 183.94L580.64 184.04L581.04 184.14L581.44 184.25L581.84 184.35L582.24 184.45L582.64 184.56L583.04 184.66L583.45 184.77L583.85 184.88L584.25 184.98L584.65 185.09L585.05 185.20L585.45 185.30L585.85 185.41L586.25 185.52L586.66 185.63L587.06 185.74L587.46 185.85L587.86 185.96L588.26 186.07L588.66 186.18L589.06 186.29L589.46 186.41L589.87 186.52L590.27 186.63L590.67 186.74L591.07 186.86L591.47 186.97L591.87 187.09L592.27 187.20L592.67 187.32L593.08 187.43L593.48 187.55L593.88 187.67L594.28 187.78L594.68 187.90L595.08 188.02L595.48 188.14L595.89 188.26L596.29 188.38L596.69 188.50L597.09 188.62L597.49 188.74L597.89 188.86L598.29 188.98L598.69 189.11L599.10 189.23L599.50 189.35L599.90 189.48L600.30 189.60L600.70 189.73L601.10 189.85L601.50 189.98L601.90 190.11L602.31 190.24L602.71 190.36L603.11 190.49L603.51 190.62L603.91 190.75L604.31 190.88L604.71 191.01L605.11 191.15L605.52 191.28L605.92 191.41L606.32 191.55L606.72 191.68L607.12 191.82L607.52 191.95L607.92 192.09L608.32 192.23L608.73 192.37L609.13 192.51L609.53 192.65L609.93 192.79L610.33 192.93L610.73 193.08L611.13 193.22L611.53 193.37L611.94 193.51L612.34 193.66L612.74 193.81L613.14 193.96L613.54 194.11L613.94 194.26L614.34 194.42L614.75 194.57L615.15 194.73L615.55 194.89L615.95 195.05L616.35 195.21L616.75 195.37L617.15 195.54L617.55 195.70L617.96 195.87L618.36 196.04L618.76 196.22L619.16 196.39L619.56 196.57L619.96 196.75L620.36 196.93L620.76 197.12L621.17 197.31L621.57 197.50L621.97 197.69L622.37 197.89L622.77 198.10L623.17 198.31L623.57 198.52L623.97 198.74L624.38 198.97L624.78 199.20L625.18 199.44L625.58 199.68L625.98 199.94L626.38 200.21L626.78 200.49L627.18 200.78L627.59 201.09L627.99 201.42L628.39 201.78L628.79 202.16L629.19 202.58L629.59 203.05L629.99 203.59L630.39 204.22L630.80 205.00L630.80 205.01L632.00 211.00L633.20 205.65L633.21 205.65L633.61 205.08L634.01 204.66L634.41 204.34L634.81 204.08L635.21 203.88L635.62 203.71L636.02 203.57L636.42 203.46L636.82 203.36L637.22 203.28L637.62 203.22L638.03 203.16L638.43 203.12L638.83 203.09L639.23 203.06L639.63 203.05L640.03 203.04L640.44 203.03L640.84 203.03L641.24 203.04L641.64 203.05L642.04 203.06L642.44 203.08L642.85 203.11L643.25 203.13L643.65 203.16L644.05 203.19L644.45 203.23L644.85 203.26L645.26 203.30L645.66 203.35L646.06 203.39L646.46 203.44L646.86 203.48L647.26 203.53L647.67 203.59L648.07 203.64L648.47 203.70L648.87 203.75L649.27 203.81L649.67 203.87L650.08 203.93L650.48 203.99L650.88 204.06L651.28 204.12L651.68 204.19L652.09 204.25L652.49 204.32L652.89 204.39L653.29 204.46L653.69 204.53L654.09 204.61L654.50 204.68L654.90 204.75L655.30 204.83L655.70 204.90L656.10 204.98L656.50 205.06L656.91 205.14L657.31 205.21L657.71 205.29L658.11 205.37L658.51 205.46L658.91 205.54L659.32 205.62L659.72 205.70L660.12 205.79L660.52 205.87L660.92 205.96L661.32 206.04L661.73 206.13L662.13 206.22L662.53 206.30L662.93 206.39L663.33 206.48L663.73 206.57L664.14 206.66L664.54 206.75L664.94 206.84L665.34 206.93L665.74 207.03L666.14 207.12L666.55 207.21L666.95 207.31L667.35 207.40L667.75 207.49L668.15 207.59L668.55 207.69L668.96 207.78L669.36 207.88L669.76 207.97L670.16 208.07L670.56 208.17L670.97 208.27L671.37 208.37L671.77 208.47L672.17 208.57L672.57 208.67L672.97 208.77L673.38 208.87L673.78 208.97L674.18 209.07L674.58 209.17L674.98 209.28L675.38 209.38L675.79 209.48L676.19 209.59L676.59 209.69L676.99 209.80L677.39 209.90L677.79 210.01L678.20 210.11L678.60 210.22L679.00 210.33L679.40 210.44L679.80 210.54L680.20 210.65L680.61 210.76L681.01 210.87L681.41 210.98L681.81 211.09L682.21 211.20L682.61 211.31L683.02 211.42L683.42 211.53L683.82 211.65L684.22 211.76L684.62 211.87L685.02 211.98L685.43 212.10L685.83 212.21L686.23 212.33L686.63 212.44L687.03 212.56L687.43 212.67L687.84 212.79L688.24 212.91L688.64 213.03L689.04 213.14L689.44 213.26L689.85 213.38L690.25 213.50L690.65 213.62L691.05 213.74L691.45 213.86L691.85 213.98L692.26 214.10L692.66 214.23L693.06 214.35L693.46 214.47L693.86 214.60L694.26 214.72L694.67 214.85L695.07 214.97L695.47 215.10L695.87 215.22L696.27 215.35L696.67 215.48L697.08 215.61L697.48 215.74L697.88 215.87L698.28 216.00L698.68 216.13L699.08 216.26L699.49 216.39L699.89 216.52L700.29 216.66L700.69 216.79L701.09 216.93L701.49 217.06L701.90 217.20L702.30 217.34L702.70 217.48L703.10 217.61L703.50 217.75L703.90 217.90L704.31 218.04L704.71 218.18L705.11 218.32L705.51 218.47L705.91 218.61L706.31 218.76L706.72 218.91L707.12 219.06L707.52 219.21L707.92 219.36L708.32 219.51L708.73 219.67L709.13 219.82L709.53 219.98L709.93 220.14L710.33 220.30L710.73 220.46L711.14 220.62L711.54 220.78L711.94 220.95L712.34 221.12L712.74 221.29L713.14 221.46L713.55 221.64L713.95 221.82L714.35 222.00L714.75 222.18L715.15 222.37L715.55 222.56L715.96 222.75L716.36 222.94L716.76 223.14L717.16 223.35L717.56 223.56L717.96 223.77L718.37 223.99L718.77 224.22L719.17 224.45L719.57 224.69L719.97 224.93L720.37 225.19L720.78 225.46L721.18 225.74L721.58 226.03L721.98 226.34L722.38 226.67L722.78 227.03L723.19 227.41L723.59 227.83L723.99 228.30L724.39 228.84L724.79 229.47L725.19 230.25L725.20 230.26L726.40 236.50L727.60 231.18L727.61 231.17L728.01 230.60L728.41 230.19L728.81 229.87L729.21 229.61L729.61 229.41L730.02 229.24L730.42 229.11L730.82 228.99L731.22 228.90L731.62 228.82L732.02 228.75L732.43 228.70L732.83 228.66L733.23 228.63L733.63 228.61L734.03 228.59L734.43 228.58L734.84 228.58L735.24 228.58L735.64 228.59L736.04 228.60L736.44 228.62L736.84 228.64L737.25 228.66L737.65 228.69L738.05 228.72L738.45 228.75L738.85 228.79L739.25 228.83L739.66 228.87L740.06 228.91L740.46 228.96L740.86 229.00L741.26 229.05L741.66 229.11L742.07 229.16L742.47 229.21L742.87 229.27L743.27 229.33L743.67 229.39L744.07 229.45L744.48 229.51L744.88 229.58L745.28 229.64L745.68 229.71L746.08 229.78L746.49 229.85L746.89 229.92L747.29 229.99L747.69 230.06L748.09 230.13L748.49 230.21L748.90 230.28L749.30 230.36L749.70 230.43L750.10 230.51L750.50 230.59L750.90 230.67L751.31 230.75L751.71 230.83L752.11 230.91L752.51 231.00L752.91 231.08L753.31 231.16L753.72 231.25L754.12 231.33L754.52 231.42L754.92 231.51L755.32 231.59L755.72 231.68L756.13 231.77L756.53 231.86L756.93 231.95L757.33 232.04L757.73 232.13L758.13 232.22L758.54 232.32L758.94 232.41L759.34 232.50L759.74 232.60L760.14 232.69L760.54 232.79L760.95 232.88L761.35 232.98L761.75 233.08L762.15 233.17L762.55 233.27L762.95 233.37L763.36 233.47L763.76 233.57L764.16 233.67L764.56 233.77L764.96 233.87L765.37 233.97L765.77 234.07L766.17 234.18L766.57 234.28L766.97 234.38L767.37 234.49L767.78 234.59L768.18 234.70L768.58 234.80L768.98 234.91L769.38 235.01L769.78 235.12L770.19 235.23L770.59 235.34L770.99 235.45L771.39 235.55L771.79 235.66L772.19 235.77L772.60 235.88L773.00 236.00L773.40 236.11L773.80 236.22L774.20 236.33L774.60 236.44L775.01 236.56L775.41 236.67L775.81 236.79L776.21 236.90L776.61 237.02L777.01 237.13L777.42 237.25L777.82 237.37L778.22 237.48L778.62 237.60L779.02 237.72L779.42 237.84L779.83 237.96L780.23 238.08L780.63 238.20L781.03 238.32L781.43 238.44L781.83 238.57L782.24 238.69L782.64 238.81L783.04 238.94L783.44 239.06L783.84 239.19L784.25 239.32L784.65 239.44L785.05 239.57L785.45 239.70L785.85 239.83L786.25 239.96L786.66 240.09L787.06 240.22L787.46 240.35L787.86 240.49L788.26 240.62L788.66 240.75L789.07 240.89L789.47 241.03L789.87 241.16L790.27 241.30L790.67 241.44L791.07 241.58L791.48 241.72L791.88 241.86L792.28 242.00L792.68 242.15L793.08 242.29L793.48 242.44L793.89 242.59L794.29 242.74L794.69 242.89L795.09 243.04L795.49 243.19L795.89 243.34L796.30 243.50L796.70 243.65L797.10 243.81L797.50 243.97L797.90 244.13L798.30 244.30L798.71 244.46L799.11 244.63L799.51 244.80L799.91 244.97L800.31 245.15L800.71 245.32L801.12 245.50L801.52 245.68L801.92 245.87L802.32 246.05L802.72 246.25L803.13 246.44L803.53 246.64L803.93 246.84L804.33 247.05L804.73 247.26L805.13 247.48L805.54 247.70L805.94 247.93L806.34 248.16L806.74 248.40L807.14 248.66L807.54 248.92L807.95 249.19L808.35 249.47L808.75 249.76L809.15 250.07L809.55 250.40L809.95 250.75L810.36 251.12L810.76 251.51L811.16 251.95L811.56 252.42L811.96 252.95L812.36 253.54L812.77 254.22L813.17 255.01L813.57 255.98L813.97 257.18L814.37 258.77"/>
</g>
<path d="M54.10 31.50H816.60" stroke="#000000" stroke-opacity="0.97" stroke-width="0.58" fill="none"/>
<path d="M54.40 31.50V502.30" stroke="#000000" stroke-opacity="0.66" stroke-width="0.58" fill="none"/>
<path d="M54.40 31.79v-6M101.92 31.79v-3.6M149.55 31.79v-3.6M197.18 31.79v-3.6M244.80 31.79v-3.6M292.43 31.79v-6M340.05 31.79v-3.6M387.68 31.79v-3.6M435.30 31.79v-3.6M482.93 31.79v-3.6M530.55 31.79v-6M578.17 31.79v-3.6M625.80 31.79v-3.6M673.42 31.79v-3.6M721.05 31.79v-3.6M768.67 31.79v-6M816.30 31.79v-3.6" stroke="#000000" stroke-opacity="0.82" stroke-width="0.58" fill="none"/>
<path d="M54.11 31.50h5.9M54.11 149.12h5.9M54.11 266.75h5.9M54.11 384.38h5.9M54.11 502.00h5.9" stroke="#000000" stroke-opacity="0.82" stroke-width="0.58" fill="none"/>
<path d="M54.11 55.02h3.8M54.11 78.55h3.8M54.11 102.08h3.8M54.11 125.60h3.8M54.11 172.65h3.8M54.11 196.18h3.8M54.11 219.70h3.8M54.11 243.22h3.8M54.11 290.27h3.8M54.11 313.80h3.8M54.11 337.32h3.8M54.11 360.85h3.8M54.11 407.90h3.8M54.11 431.43h3.8M54.11 454.95h3.8M54.11 478.48h3.8" stroke="#000000" stroke-opacity="0.55" stroke-width="0.58" fill="none"/>
<rect x="68" y="319" width="249" height="144" fill="#ffffff"/>
<path d="M68.5 463.4V319.5H317" fill="none" stroke="#707070" stroke-width="1"/>
<path d="M316.6 320V463.4" fill="none" stroke="#a2a2a2" stroke-width="1"/>
<path d="M68 463H317.1" fill="none" stroke="#707070" stroke-width="1"/>
<path d="M75 345.8H115.6" stroke="#0000ff" stroke-width="2.5" fill="none"/>
<path d="M75 391.2H115.6" stroke="#ff0000" stroke-width="2.5" fill="none"/>
<path d="M75 436.3H115.6" stroke="#ff8000" stroke-width="2.5" fill="none"/>
<g style="filter:grayscale(1)">
<text x="292.62" y="51.4" text-anchor="middle">50</text>
<text x="530.75" y="51.4" text-anchor="middle">100</text>
<text x="768.88" y="51.4" text-anchor="middle">150</text>
<text x="50.5" y="37.30" text-anchor="end">0</text>
<text x="50.5" y="154.90" text-anchor="end">50</text>
<text transform="translate(29.80 159.85) scale(1.18 1.59)" x="0" y="0" text-anchor="end">−</text>
<text x="50.5" y="272.55" text-anchor="end">100</text>
<text transform="translate(19.80 277.50) scale(1.18 1.59)" x="0" y="0" text-anchor="end">−</text>
<text x="50.5" y="390.20" text-anchor="end">150</text>
<text transform="translate(19.80 395.15) scale(1.18 1.59)" x="0" y="0" text-anchor="end">−</text>
<text x="50.5" y="507.80" text-anchor="end">200</text>
<text transform="translate(19.80 512.75) scale(1.18 1.59)" x="0" y="0" text-anchor="end">−</text>
<text transform="translate(34.5 18.65) scale(1 0.91)" x="0" y="0">ln</text>
<text transform="translate(51.3 17.8) scale(1 0.82)" x="0" y="0" stroke="#000" stroke-width="0.8">|</text>
<text transform="translate(55.95 18.65) scale(0.80 0.90)" x="0" y="0" stroke="#000" stroke-width="0.25">Ψ</text>
<text transform="translate(68.85 17.8) scale(1 0.82)" x="0" y="0" stroke="#000" stroke-width="0.8">|</text>
<text x="828.0" y="37.0">t</text>
<text x="119.4" y="348.0" class="lg"><tspan font-style="italic">ω</tspan><tspan font-style="italic" font-size="9.4" dy="2.6">q</tspan><tspan dy="-2.6" dx="1.2">=0</tspan></text>
<text x="119.4" y="393.3" class="lg"><tspan font-style="italic">ω</tspan><tspan font-style="italic" font-size="9.4" dy="2.6">q</tspan><tspan dy="-2.6" dx="1.2">=−0.5</tspan></text>
<text x="119.4" y="438.5" class="lg"><tspan font-style="italic">ω</tspan><tspan font-style="italic" font-size="9.4" dy="2.6">q</tspan><tspan dy="-2.6" dx="1.2">=−0.8</tspan></text>
</g>
</svg>
</body>
</html>
